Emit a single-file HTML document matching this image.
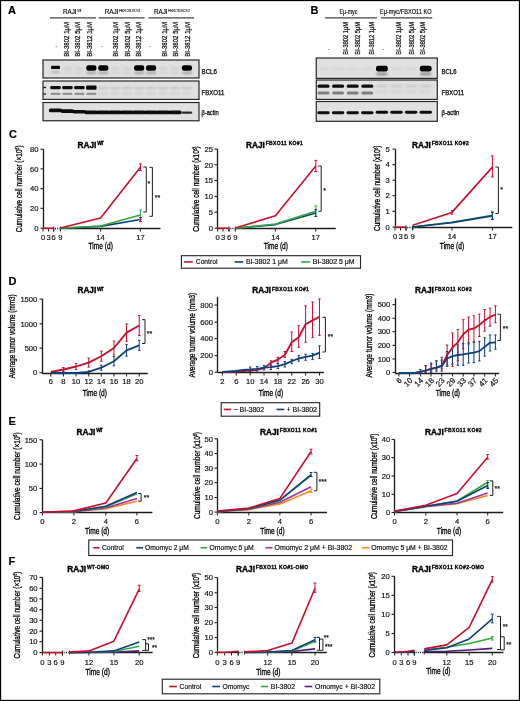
<!DOCTYPE html><html><head><meta charset="utf-8"><style>html,body{margin:0;padding:0;background:#fff;}svg{display:block;font-family:"Liberation Sans", sans-serif;} text{stroke:#000;stroke-width:0.18px;}</style></head><body>
<svg width="520" height="701" viewBox="0 0 520 701">
<defs><filter id="gb" x="0" y="0" width="520" height="701" filterUnits="userSpaceOnUse"><feGaussianBlur stdDeviation="0.45"/></filter><filter id="bl" x="-20%" y="-50%" width="140%" height="200%"><feGaussianBlur stdDeviation="0.7"/></filter><filter id="bl2" x="-20%" y="-80%" width="140%" height="260%"><feGaussianBlur stdDeviation="1.0"/></filter></defs>
<rect x="0" y="0" width="520" height="701" fill="#fff"/>
<g filter="url(#gb)">
<rect x="0.5" y="0.5" width="519" height="700" fill="none" stroke="#000" stroke-width="1.3"/>
<text x="8" y="14.2" font-size="11" font-weight="bold" text-anchor="start" fill="#000">A</text>
<text x="310.6" y="14.4" font-size="11" font-weight="bold" text-anchor="start" fill="#000">B</text>
<text x="9" y="138.2" font-size="11" font-weight="bold" text-anchor="start" fill="#000">C</text>
<text x="8.6" y="285" font-size="11" font-weight="bold" text-anchor="start" fill="#000">D</text>
<text x="8.6" y="424.5" font-size="11" font-weight="bold" text-anchor="start" fill="#000">E</text>
<text x="8.6" y="565.3" font-size="11" font-weight="bold" text-anchor="start" fill="#000">F</text>
<text x="63" y="14.3" font-size="6.8" font-weight="normal" text-anchor="start" fill="#111" textLength="13.6" lengthAdjust="spacingAndGlyphs">RAJI</text>
<text x="77.1" y="11.8" font-size="4.3" fill="#222" style="stroke-width:0.05px" textLength="4.4" lengthAdjust="spacing">WT</text>
<text x="104.7" y="14.3" font-size="6.8" font-weight="normal" text-anchor="start" fill="#111" textLength="13.6" lengthAdjust="spacingAndGlyphs">RAJI</text>
<text x="118.8" y="11.8" font-size="4.3" fill="#222" style="stroke-width:0.05px" textLength="22" lengthAdjust="spacing">FBXO11 KO#1</text>
<text x="154" y="14.3" font-size="6.8" font-weight="normal" text-anchor="start" fill="#111" textLength="13.6" lengthAdjust="spacingAndGlyphs">RAJI</text>
<text x="168.1" y="11.8" font-size="4.3" fill="#222" style="stroke-width:0.05px" textLength="22" lengthAdjust="spacing">FBXO11 KO#2</text>
<line x1="50" y1="17.9" x2="96" y2="17.9" stroke="#444" stroke-width="1.3"/>
<line x1="98.6" y1="17.9" x2="144.5" y2="17.9" stroke="#444" stroke-width="1.3"/>
<line x1="148.5" y1="17.9" x2="194" y2="17.9" stroke="#444" stroke-width="1.3"/>
<text x="56.3" y="47.5" font-size="5" font-weight="normal" text-anchor="middle" fill="#333">-</text>
<text transform="translate(68.74,56.7) rotate(-90)" x="0" y="0" font-size="7.6" font-weight="normal" text-anchor="start" fill="#222" textLength="34.7" lengthAdjust="spacingAndGlyphs" style="stroke-width:0.25px">BI-3802 1μM</text>
<text transform="translate(80.24,56.7) rotate(-90)" x="0" y="0" font-size="7.6" font-weight="normal" text-anchor="start" fill="#222" textLength="34.7" lengthAdjust="spacingAndGlyphs" style="stroke-width:0.25px">BI-3802 5μM</text>
<text transform="translate(92.34,56.7) rotate(-90)" x="0" y="0" font-size="7.6" font-weight="normal" text-anchor="start" fill="#222" textLength="34.7" lengthAdjust="spacingAndGlyphs" style="stroke-width:0.25px">BI-3812 1μM</text>
<text x="102.1" y="47.5" font-size="5" font-weight="normal" text-anchor="middle" fill="#333">-</text>
<text transform="translate(117.54,56.7) rotate(-90)" x="0" y="0" font-size="7.6" font-weight="normal" text-anchor="start" fill="#222" textLength="34.7" lengthAdjust="spacingAndGlyphs" style="stroke-width:0.25px">BI-3802 1μM</text>
<text transform="translate(129.64,56.7) rotate(-90)" x="0" y="0" font-size="7.6" font-weight="normal" text-anchor="start" fill="#222" textLength="34.7" lengthAdjust="spacingAndGlyphs" style="stroke-width:0.25px">BI-3802 5μM</text>
<text transform="translate(141.14,56.7) rotate(-90)" x="0" y="0" font-size="7.6" font-weight="normal" text-anchor="start" fill="#222" textLength="34.7" lengthAdjust="spacingAndGlyphs" style="stroke-width:0.25px">BI-3812 1μM</text>
<text x="150" y="47.5" font-size="5" font-weight="normal" text-anchor="middle" fill="#333">-</text>
<text transform="translate(167.44,56.7) rotate(-90)" x="0" y="0" font-size="7.6" font-weight="normal" text-anchor="start" fill="#222" textLength="34.7" lengthAdjust="spacingAndGlyphs" style="stroke-width:0.25px">BI-3802 1μM</text>
<text transform="translate(178.14,56.7) rotate(-90)" x="0" y="0" font-size="7.6" font-weight="normal" text-anchor="start" fill="#222" textLength="34.7" lengthAdjust="spacingAndGlyphs" style="stroke-width:0.25px">BI-3802 5μM</text>
<text transform="translate(189.64,56.7) rotate(-90)" x="0" y="0" font-size="7.6" font-weight="normal" text-anchor="start" fill="#222" textLength="34.7" lengthAdjust="spacingAndGlyphs" style="stroke-width:0.25px">BI-3812 1μM</text>
<rect x="43" y="60" width="156" height="18" fill="#e0e0e0" stroke="#262626" stroke-width="1.2"/>
<rect x="43" y="81" width="156" height="18.4" fill="#e0e0e0" stroke="#262626" stroke-width="1.2"/>
<rect x="43" y="102.5" width="156" height="18.25" fill="#e0e0e0" stroke="#262626" stroke-width="1.2"/>
<rect x="51" y="65.7" width="9" height="3.4" rx="1.2" fill="#000" opacity="0.95" filter="url(#bl)"/>
<rect x="51.25" y="70.8" width="8.5" height="2.4" rx="1.2" fill="#888" opacity="0.5" filter="url(#bl2)"/>
<rect x="62.95" y="67.3" width="9" height="2.4" rx="1.2" fill="#bbb" opacity="0.45" filter="url(#bl2)"/>
<rect x="62.95" y="71.4" width="9" height="2.2" rx="1.2" fill="#bbb" opacity="0.4" filter="url(#bl2)"/>
<rect x="74.9" y="67.3" width="9" height="2.4" rx="1.2" fill="#bbb" opacity="0.45" filter="url(#bl2)"/>
<rect x="74.9" y="71.4" width="9" height="2.2" rx="1.2" fill="#bbb" opacity="0.4" filter="url(#bl2)"/>
<rect x="86.25" y="65.2" width="10.2" height="5.6" rx="2.2" fill="#000" opacity="1" filter="url(#bl)"/>
<rect x="86.35" y="71.4" width="10" height="2.8" rx="1.2" fill="#777" opacity="0.55" filter="url(#bl2)"/>
<rect x="98.2" y="65.2" width="10.2" height="5.6" rx="2.2" fill="#000" opacity="1" filter="url(#bl)"/>
<rect x="98.3" y="71.4" width="10" height="2.8" rx="1.2" fill="#777" opacity="0.55" filter="url(#bl2)"/>
<rect x="110.75" y="67.3" width="9" height="2.4" rx="1.2" fill="#bbb" opacity="0.45" filter="url(#bl2)"/>
<rect x="110.75" y="71.4" width="9" height="2.2" rx="1.2" fill="#bbb" opacity="0.4" filter="url(#bl2)"/>
<rect x="122.7" y="67.3" width="9" height="2.4" rx="1.2" fill="#bbb" opacity="0.45" filter="url(#bl2)"/>
<rect x="122.7" y="71.4" width="9" height="2.2" rx="1.2" fill="#bbb" opacity="0.4" filter="url(#bl2)"/>
<rect x="134.05" y="65.2" width="10.2" height="5.6" rx="2.2" fill="#000" opacity="1" filter="url(#bl)"/>
<rect x="134.15" y="71.4" width="10" height="2.8" rx="1.2" fill="#777" opacity="0.55" filter="url(#bl2)"/>
<rect x="146" y="65.2" width="10.2" height="5.6" rx="2.2" fill="#000" opacity="1" filter="url(#bl)"/>
<rect x="146.1" y="71.4" width="10" height="2.8" rx="1.2" fill="#777" opacity="0.55" filter="url(#bl2)"/>
<rect x="158.55" y="67.3" width="9" height="2.4" rx="1.2" fill="#bbb" opacity="0.45" filter="url(#bl2)"/>
<rect x="158.55" y="71.4" width="9" height="2.2" rx="1.2" fill="#bbb" opacity="0.4" filter="url(#bl2)"/>
<rect x="170.5" y="67.3" width="9" height="2.4" rx="1.2" fill="#bbb" opacity="0.45" filter="url(#bl2)"/>
<rect x="170.5" y="71.4" width="9" height="2.2" rx="1.2" fill="#bbb" opacity="0.4" filter="url(#bl2)"/>
<rect x="181.85" y="65.2" width="10.2" height="5.6" rx="2.2" fill="#000" opacity="1" filter="url(#bl)"/>
<rect x="181.95" y="71.4" width="10" height="2.8" rx="1.2" fill="#777" opacity="0.55" filter="url(#bl2)"/>
<rect x="50.25" y="85.9" width="10.5" height="3.4" rx="1.2" fill="#000" opacity="0.95" filter="url(#bl)"/>
<rect x="50.5" y="92.7" width="10" height="2.4" rx="1.2" fill="#555" opacity="0.55" filter="url(#bl)"/>
<rect x="62.2" y="85.9" width="10.5" height="3.4" rx="1.2" fill="#000" opacity="0.95" filter="url(#bl)"/>
<rect x="62.45" y="92.7" width="10" height="2.4" rx="1.2" fill="#555" opacity="0.55" filter="url(#bl)"/>
<rect x="74.15" y="85.9" width="10.5" height="3.4" rx="1.2" fill="#000" opacity="0.95" filter="url(#bl)"/>
<rect x="74.4" y="92.7" width="10" height="2.4" rx="1.2" fill="#555" opacity="0.55" filter="url(#bl)"/>
<rect x="86.1" y="85.5" width="10.5" height="4.2" rx="1.2" fill="#000" opacity="0.95" filter="url(#bl)"/>
<rect x="86.35" y="92.7" width="10" height="2.4" rx="1.2" fill="#555" opacity="0.55" filter="url(#bl)"/>
<rect x="98.3" y="87.2" width="10" height="2" rx="1.2" fill="#9a9a9a" opacity="0.45" filter="url(#bl2)"/>
<rect x="98.3" y="92.6" width="10" height="1.8" rx="1.2" fill="#aaa" opacity="0.3" filter="url(#bl2)"/>
<rect x="110.25" y="87.2" width="10" height="2" rx="1.2" fill="#9a9a9a" opacity="0.45" filter="url(#bl2)"/>
<rect x="110.25" y="92.6" width="10" height="1.8" rx="1.2" fill="#aaa" opacity="0.3" filter="url(#bl2)"/>
<rect x="122.2" y="87.2" width="10" height="2" rx="1.2" fill="#9a9a9a" opacity="0.45" filter="url(#bl2)"/>
<rect x="122.2" y="92.6" width="10" height="1.8" rx="1.2" fill="#aaa" opacity="0.3" filter="url(#bl2)"/>
<rect x="134.15" y="87.2" width="10" height="2" rx="1.2" fill="#9a9a9a" opacity="0.45" filter="url(#bl2)"/>
<rect x="134.15" y="92.6" width="10" height="1.8" rx="1.2" fill="#aaa" opacity="0.3" filter="url(#bl2)"/>
<rect x="146.1" y="87.2" width="10" height="2" rx="1.2" fill="#9a9a9a" opacity="0.45" filter="url(#bl2)"/>
<rect x="146.1" y="92.6" width="10" height="1.8" rx="1.2" fill="#aaa" opacity="0.3" filter="url(#bl2)"/>
<rect x="158.05" y="87.2" width="10" height="2" rx="1.2" fill="#9a9a9a" opacity="0.45" filter="url(#bl2)"/>
<rect x="158.05" y="92.6" width="10" height="1.8" rx="1.2" fill="#aaa" opacity="0.3" filter="url(#bl2)"/>
<rect x="170" y="87.2" width="10" height="2" rx="1.2" fill="#9a9a9a" opacity="0.45" filter="url(#bl2)"/>
<rect x="170" y="92.6" width="10" height="1.8" rx="1.2" fill="#aaa" opacity="0.3" filter="url(#bl2)"/>
<rect x="181.95" y="87.2" width="10" height="2" rx="1.2" fill="#9a9a9a" opacity="0.45" filter="url(#bl2)"/>
<rect x="181.95" y="92.6" width="10" height="1.8" rx="1.2" fill="#aaa" opacity="0.3" filter="url(#bl2)"/>
<line x1="43.5" y1="87.5" x2="46" y2="87.5" stroke="#000" stroke-width="1.2"/>
<line x1="43.5" y1="94" x2="46" y2="94" stroke="#000" stroke-width="1.2"/>
<rect x="48.9" y="108.6" width="13.2" height="3.6" rx="1.5" fill="#000" opacity="0.95" filter="url(#bl)"/>
<rect x="60.85" y="109.3" width="13.2" height="3.6" rx="1.5" fill="#000" opacity="0.95" filter="url(#bl)"/>
<rect x="72.8" y="110" width="13.2" height="3.6" rx="1.5" fill="#000" opacity="0.95" filter="url(#bl)"/>
<rect x="84.75" y="110.6" width="13.2" height="3.6" rx="1.5" fill="#000" opacity="0.95" filter="url(#bl)"/>
<rect x="96.7" y="110.6" width="13.2" height="3.6" rx="1.5" fill="#000" opacity="0.95" filter="url(#bl)"/>
<rect x="108.65" y="110.6" width="13.2" height="3.6" rx="1.5" fill="#000" opacity="0.95" filter="url(#bl)"/>
<rect x="120.6" y="110.6" width="13.2" height="3.6" rx="1.5" fill="#000" opacity="0.95" filter="url(#bl)"/>
<rect x="132.55" y="110.6" width="13.2" height="3.6" rx="1.5" fill="#000" opacity="0.95" filter="url(#bl)"/>
<rect x="144.5" y="110.6" width="13.2" height="3.6" rx="1.5" fill="#000" opacity="0.95" filter="url(#bl)"/>
<rect x="156.45" y="110.6" width="13.2" height="3.6" rx="1.5" fill="#000" opacity="0.95" filter="url(#bl)"/>
<rect x="168.4" y="110.6" width="13.2" height="3.6" rx="1.5" fill="#000" opacity="0.95" filter="url(#bl)"/>
<rect x="181.7" y="111.4" width="10.5" height="2.4" rx="1.2" fill="#000" opacity="0.8" filter="url(#bl)"/>
<text x="339.4" y="13.8" font-size="6.6" font-weight="normal" text-anchor="start" fill="#222" textLength="18" lengthAdjust="spacingAndGlyphs">Eμ-myc</text>
<text x="380" y="13.8" font-size="6.6" font-weight="normal" text-anchor="start" fill="#222" textLength="51.5" lengthAdjust="spacingAndGlyphs">Eμ-myc/FBXO11 KO</text>
<line x1="325" y1="17.9" x2="377" y2="17.9" stroke="#444" stroke-width="1.3"/>
<line x1="381" y1="17.9" x2="432.3" y2="17.9" stroke="#444" stroke-width="1.3"/>
<text x="328.5" y="51.2" font-size="5" font-weight="normal" text-anchor="middle" fill="#333">-</text>
<text x="383" y="51.2" font-size="5" font-weight="normal" text-anchor="middle" fill="#333">-</text>
<text transform="translate(347.74,54.8) rotate(-90)" x="0" y="0" font-size="7.6" font-weight="normal" text-anchor="start" fill="#222" textLength="32.8" lengthAdjust="spacingAndGlyphs" style="stroke-width:0.25px">BI-3802 1μM</text>
<text transform="translate(360.44,54.8) rotate(-90)" x="0" y="0" font-size="7.6" font-weight="normal" text-anchor="start" fill="#222" textLength="32.8" lengthAdjust="spacingAndGlyphs" style="stroke-width:0.25px">BI-3802 5μM</text>
<text transform="translate(373.74,54.8) rotate(-90)" x="0" y="0" font-size="7.6" font-weight="normal" text-anchor="start" fill="#222" textLength="32.8" lengthAdjust="spacingAndGlyphs" style="stroke-width:0.25px">BI-3812 1μM</text>
<text transform="translate(401.04,54.8) rotate(-90)" x="0" y="0" font-size="7.6" font-weight="normal" text-anchor="start" fill="#222" textLength="32.8" lengthAdjust="spacingAndGlyphs" style="stroke-width:0.25px">BI-3802 1μM</text>
<text transform="translate(413.54,54.8) rotate(-90)" x="0" y="0" font-size="7.6" font-weight="normal" text-anchor="start" fill="#222" textLength="32.8" lengthAdjust="spacingAndGlyphs" style="stroke-width:0.25px">BI-3802 5μM</text>
<text transform="translate(425.44,54.8) rotate(-90)" x="0" y="0" font-size="7.6" font-weight="normal" text-anchor="start" fill="#222" textLength="32.8" lengthAdjust="spacingAndGlyphs" style="stroke-width:0.25px">BI-3802 5μM</text>
<rect x="316.25" y="58" width="121.05" height="20.4" fill="#e0e0e0" stroke="#262626" stroke-width="1.2"/>
<rect x="316.25" y="80" width="121.05" height="19.4" fill="#e0e0e0" stroke="#262626" stroke-width="1.2"/>
<rect x="316.25" y="101.5" width="121.05" height="19.8" fill="#e0e0e0" stroke="#262626" stroke-width="1.2"/>
<rect x="318" y="67.9" width="11" height="2.2" rx="1.2" fill="#c4c4c4" opacity="0.4" filter="url(#bl2)"/>
<rect x="332.6" y="67.9" width="11" height="2.2" rx="1.2" fill="#c4c4c4" opacity="0.4" filter="url(#bl2)"/>
<rect x="347.2" y="67.9" width="11" height="2.2" rx="1.2" fill="#c4c4c4" opacity="0.4" filter="url(#bl2)"/>
<rect x="361.8" y="67.9" width="11" height="2.2" rx="1.2" fill="#c4c4c4" opacity="0.4" filter="url(#bl2)"/>
<rect x="376" y="65.8" width="11.8" height="5.6" rx="2.2" fill="#000" opacity="1" filter="url(#bl)"/>
<rect x="376.4" y="72.2" width="11" height="3.2" rx="1.2" fill="#6a6370" opacity="0.6" filter="url(#bl2)"/>
<rect x="391" y="67.9" width="11" height="2.2" rx="1.2" fill="#c4c4c4" opacity="0.4" filter="url(#bl2)"/>
<rect x="405.6" y="67.9" width="11" height="2.2" rx="1.2" fill="#c4c4c4" opacity="0.4" filter="url(#bl2)"/>
<rect x="419.8" y="65.8" width="11.8" height="5.6" rx="2.2" fill="#000" opacity="1" filter="url(#bl)"/>
<rect x="420.2" y="72.2" width="11" height="3.2" rx="1.2" fill="#6a6370" opacity="0.6" filter="url(#bl2)"/>
<rect x="317.5" y="84.4" width="12" height="3.4" rx="1.6" fill="#000" opacity="0.95" filter="url(#bl)"/>
<rect x="317.75" y="91.4" width="11.5" height="3" rx="1.2" fill="#4a4a4a" opacity="0.65" filter="url(#bl)"/>
<rect x="332.1" y="84.4" width="12" height="3.4" rx="1.6" fill="#000" opacity="0.95" filter="url(#bl)"/>
<rect x="332.35" y="91.4" width="11.5" height="3" rx="1.2" fill="#4a4a4a" opacity="0.65" filter="url(#bl)"/>
<rect x="346.7" y="84.4" width="12" height="3.4" rx="1.6" fill="#000" opacity="0.95" filter="url(#bl)"/>
<rect x="346.95" y="91.4" width="11.5" height="3" rx="1.2" fill="#4a4a4a" opacity="0.65" filter="url(#bl)"/>
<rect x="361.3" y="84.4" width="12" height="3.4" rx="1.6" fill="#000" opacity="0.95" filter="url(#bl)"/>
<rect x="361.55" y="91.4" width="11.5" height="3" rx="1.2" fill="#4a4a4a" opacity="0.65" filter="url(#bl)"/>
<rect x="376.15" y="85.2" width="11.5" height="2" rx="1.2" fill="#a0a0a0" opacity="0.45" filter="url(#bl2)"/>
<rect x="376.15" y="90.5" width="11.5" height="1.8" rx="1.2" fill="#aaa" opacity="0.35" filter="url(#bl2)"/>
<rect x="390.75" y="85.2" width="11.5" height="2" rx="1.2" fill="#a0a0a0" opacity="0.45" filter="url(#bl2)"/>
<rect x="390.75" y="90.5" width="11.5" height="1.8" rx="1.2" fill="#aaa" opacity="0.35" filter="url(#bl2)"/>
<rect x="405.35" y="85.2" width="11.5" height="2" rx="1.2" fill="#a0a0a0" opacity="0.45" filter="url(#bl2)"/>
<rect x="405.35" y="90.5" width="11.5" height="1.8" rx="1.2" fill="#aaa" opacity="0.35" filter="url(#bl2)"/>
<rect x="419.95" y="85.2" width="11.5" height="2" rx="1.2" fill="#a0a0a0" opacity="0.45" filter="url(#bl2)"/>
<rect x="419.95" y="90.5" width="11.5" height="1.8" rx="1.2" fill="#aaa" opacity="0.35" filter="url(#bl2)"/>
<rect x="317.3" y="111.35" width="12.4" height="2.9" rx="1.4" fill="#000" opacity="0.95" filter="url(#bl)"/>
<rect x="331.9" y="111.35" width="12.4" height="2.9" rx="1.4" fill="#000" opacity="0.95" filter="url(#bl)"/>
<rect x="346.5" y="111.35" width="12.4" height="2.9" rx="1.4" fill="#000" opacity="0.95" filter="url(#bl)"/>
<rect x="361.1" y="111.35" width="12.4" height="2.9" rx="1.4" fill="#000" opacity="0.95" filter="url(#bl)"/>
<rect x="375.7" y="110.75" width="12.4" height="2.9" rx="1.4" fill="#000" opacity="0.95" filter="url(#bl)"/>
<rect x="390.3" y="110.75" width="12.4" height="2.9" rx="1.4" fill="#000" opacity="0.95" filter="url(#bl)"/>
<rect x="404.9" y="110.75" width="12.4" height="2.9" rx="1.4" fill="#000" opacity="0.95" filter="url(#bl)"/>
<rect x="419.5" y="110.75" width="12.4" height="2.9" rx="1.4" fill="#000" opacity="0.95" filter="url(#bl)"/>
<text x="201.5" y="73.8" font-size="6.9" font-weight="normal" text-anchor="start" fill="#111" textLength="15.5" lengthAdjust="spacingAndGlyphs" style="stroke-width:0.25px">BCL6</text>
<text x="201.5" y="95" font-size="6.9" font-weight="normal" text-anchor="start" fill="#111" textLength="22.9" lengthAdjust="spacingAndGlyphs" style="stroke-width:0.25px">FBXO11</text>
<text x="201.5" y="115.3" font-size="6.9" font-weight="normal" text-anchor="start" fill="#111" textLength="17.2" lengthAdjust="spacingAndGlyphs" style="stroke-width:0.25px">β-actin</text>
<text x="441.5" y="73.8" font-size="6.9" font-weight="normal" text-anchor="start" fill="#111" textLength="15" lengthAdjust="spacingAndGlyphs" style="stroke-width:0.25px">BCL6</text>
<text x="441.5" y="95" font-size="6.9" font-weight="normal" text-anchor="start" fill="#111" textLength="22.5" lengthAdjust="spacingAndGlyphs" style="stroke-width:0.25px">FBXO11</text>
<text x="441.5" y="115.2" font-size="6.9" font-weight="normal" text-anchor="start" fill="#111" textLength="17.9" lengthAdjust="spacingAndGlyphs" style="stroke-width:0.25px">β-actin</text>
<text x="77.5" y="148.3" font-size="9.2" font-weight="bold" text-anchor="start" fill="#000" textLength="18.9" lengthAdjust="spacingAndGlyphs" style="stroke-width:0.4px">RAJI</text>
<text x="97.2" y="145.4" font-size="5" font-weight="bold" fill="#000" style="stroke-width:0.3px" textLength="6.6" lengthAdjust="spacing">WT</text>
<line x1="43.5" y1="149.2" x2="43.5" y2="228.8" stroke="#1e1e1e" stroke-width="1.3"/>
<line x1="40.5" y1="149.2" x2="43.5" y2="149.2" stroke="#1e1e1e" stroke-width="1.1"/>
<text x="38.5" y="151.9" font-size="7.6" font-weight="normal" text-anchor="end" fill="#1a1a1a">80</text>
<line x1="40.5" y1="168.9" x2="43.5" y2="168.9" stroke="#1e1e1e" stroke-width="1.1"/>
<text x="38.5" y="171.6" font-size="7.6" font-weight="normal" text-anchor="end" fill="#1a1a1a">60</text>
<line x1="40.5" y1="188.6" x2="43.5" y2="188.6" stroke="#1e1e1e" stroke-width="1.1"/>
<text x="38.5" y="191.3" font-size="7.6" font-weight="normal" text-anchor="end" fill="#1a1a1a">40</text>
<line x1="40.5" y1="208.3" x2="43.5" y2="208.3" stroke="#1e1e1e" stroke-width="1.1"/>
<text x="38.5" y="211" font-size="7.6" font-weight="normal" text-anchor="end" fill="#1a1a1a">20</text>
<line x1="40.5" y1="228.2" x2="43.5" y2="228.2" stroke="#1e1e1e" stroke-width="1.1"/>
<text x="38.5" y="230.9" font-size="7.6" font-weight="normal" text-anchor="end" fill="#1a1a1a">0</text>
<line x1="43" y1="228.5" x2="53.7" y2="228.5" stroke="#1e1e1e" stroke-width="1.3"/>
<line x1="60.4" y1="228.5" x2="160.5" y2="228.5" stroke="#1e1e1e" stroke-width="1.3"/>
<line x1="54.9" y1="228.5" x2="59.6" y2="228.5" stroke="#1e1e1e" stroke-width="1.3" stroke-dasharray="1.1,1.1"/>
<line x1="53.7" y1="226.5" x2="53.7" y2="231.5" stroke="#1e1e1e" stroke-width="1"/>
<line x1="60.4" y1="226.5" x2="60.4" y2="230.5" stroke="#1e1e1e" stroke-width="1"/>
<line x1="43" y1="228.5" x2="43" y2="231.5" stroke="#1e1e1e" stroke-width="1"/>
<text x="43" y="239.6" font-size="7.6" font-weight="normal" text-anchor="middle" fill="#1a1a1a">0</text>
<line x1="48.5" y1="228.5" x2="48.5" y2="231.5" stroke="#1e1e1e" stroke-width="1"/>
<text x="48.5" y="239.6" font-size="7.6" font-weight="normal" text-anchor="middle" fill="#1a1a1a">3</text>
<line x1="53.7" y1="228.5" x2="53.7" y2="231.5" stroke="#1e1e1e" stroke-width="1"/>
<text x="53.7" y="239.6" font-size="7.6" font-weight="normal" text-anchor="middle" fill="#1a1a1a">6</text>
<line x1="60.4" y1="228.5" x2="60.4" y2="231.5" stroke="#1e1e1e" stroke-width="1"/>
<text x="60.4" y="239.6" font-size="7.6" font-weight="normal" text-anchor="middle" fill="#1a1a1a">9</text>
<line x1="100.6" y1="228.5" x2="100.6" y2="231.5" stroke="#1e1e1e" stroke-width="1"/>
<text x="100.6" y="239.6" font-size="7.6" font-weight="normal" text-anchor="middle" fill="#1a1a1a">14</text>
<line x1="140.4" y1="228.5" x2="140.4" y2="231.5" stroke="#1e1e1e" stroke-width="1"/>
<text x="140.4" y="239.6" font-size="7.6" font-weight="normal" text-anchor="middle" fill="#1a1a1a">17</text>
<text transform="translate(21.67,188.85) rotate(-90)" x="0" y="0" font-size="8.8" font-weight="normal" text-anchor="middle" fill="#111" textLength="86.9" lengthAdjust="spacingAndGlyphs" style="stroke-width:0.3px">Cumulative cell number (×10<tspan font-size="4.6" dy="-2.6">6</tspan><tspan dy="2.6">)</tspan></text>
<text x="100.7" y="249.3" font-size="9.8" font-weight="normal" text-anchor="middle" fill="#111" textLength="24.3" lengthAdjust="spacingAndGlyphs" style="stroke-width:0.35px">Time (d)</text>
<polyline points="43,228.2 48.5,228.2 53.7,228.2" fill="none" stroke="#c8102e" stroke-width="1.6" stroke-linejoin="round"/>
<polyline points="60.4,228.2 100.6,226.4 140.4,219.5" fill="none" stroke="#0f3f7c" stroke-width="1.6" stroke-linejoin="round"/>
<polyline points="60.4,228.2 100.6,226 140.4,214.9" fill="none" stroke="#2faa3c" stroke-width="1.6" stroke-linejoin="round"/>
<polyline points="60.4,228 100.6,218 140.4,167.3" fill="none" stroke="#c8102e" stroke-width="1.6" stroke-linejoin="round"/>
<line x1="140.4" y1="163.9" x2="140.4" y2="170.5" stroke="#c8102e" stroke-width="1"/>
<line x1="139" y1="163.9" x2="141.8" y2="163.9" stroke="#c8102e" stroke-width="1"/>
<line x1="139" y1="170.5" x2="141.8" y2="170.5" stroke="#c8102e" stroke-width="1"/>
<line x1="140.4" y1="210" x2="140.4" y2="219.5" stroke="#2faa3c" stroke-width="1"/>
<line x1="139" y1="210" x2="141.8" y2="210" stroke="#2faa3c" stroke-width="1"/>
<line x1="139" y1="219.5" x2="141.8" y2="219.5" stroke="#2faa3c" stroke-width="1"/>
<line x1="140.4" y1="217.5" x2="140.4" y2="221.5" stroke="#c8102e" stroke-width="1"/>
<line x1="139" y1="217.5" x2="141.8" y2="217.5" stroke="#c8102e" stroke-width="1"/>
<line x1="139" y1="221.5" x2="141.8" y2="221.5" stroke="#c8102e" stroke-width="1"/>
<polyline points="143.3,167 146.3,167 146.3,212 143.3,212" fill="none" stroke="#1e1e1e" stroke-width="1"/>
<text x="147.6" y="186.3" font-size="7" font-weight="normal" text-anchor="start" fill="#1a1a1a">*</text>
<polyline points="149.4,167.3 152.4,167.3 152.4,216.3 149.4,216.3" fill="none" stroke="#1e1e1e" stroke-width="1"/>
<text x="154.8" y="200.3" font-size="7" font-weight="normal" text-anchor="start" fill="#1a1a1a">**</text>
<text x="246" y="148.3" font-size="9.2" font-weight="bold" text-anchor="start" fill="#000" textLength="18.9" lengthAdjust="spacingAndGlyphs" style="stroke-width:0.4px">RAJI</text>
<text x="265.7" y="145.4" font-size="5" font-weight="bold" fill="#000" style="stroke-width:0.3px" textLength="37" lengthAdjust="spacing">FBXO11 KO#1</text>
<line x1="217.5" y1="149.1" x2="217.5" y2="228.8" stroke="#1e1e1e" stroke-width="1.3"/>
<line x1="214.5" y1="149.1" x2="217.5" y2="149.1" stroke="#1e1e1e" stroke-width="1.1"/>
<text x="213" y="151.8" font-size="7.6" font-weight="normal" text-anchor="end" fill="#1a1a1a">25</text>
<line x1="214.5" y1="164.8" x2="217.5" y2="164.8" stroke="#1e1e1e" stroke-width="1.1"/>
<text x="213" y="167.5" font-size="7.6" font-weight="normal" text-anchor="end" fill="#1a1a1a">20</text>
<line x1="214.5" y1="180.5" x2="217.5" y2="180.5" stroke="#1e1e1e" stroke-width="1.1"/>
<text x="213" y="183.2" font-size="7.6" font-weight="normal" text-anchor="end" fill="#1a1a1a">15</text>
<line x1="214.5" y1="196.5" x2="217.5" y2="196.5" stroke="#1e1e1e" stroke-width="1.1"/>
<text x="213" y="199.2" font-size="7.6" font-weight="normal" text-anchor="end" fill="#1a1a1a">10</text>
<line x1="214.5" y1="212.2" x2="217.5" y2="212.2" stroke="#1e1e1e" stroke-width="1.1"/>
<text x="213" y="214.9" font-size="7.6" font-weight="normal" text-anchor="end" fill="#1a1a1a">5</text>
<line x1="214.5" y1="228.2" x2="217.5" y2="228.2" stroke="#1e1e1e" stroke-width="1.1"/>
<text x="213" y="230.9" font-size="7.6" font-weight="normal" text-anchor="end" fill="#1a1a1a">0</text>
<line x1="217.3" y1="228.5" x2="229" y2="228.5" stroke="#1e1e1e" stroke-width="1.3"/>
<line x1="235.3" y1="228.5" x2="335.75" y2="228.5" stroke="#1e1e1e" stroke-width="1.3"/>
<line x1="230.2" y1="228.5" x2="234.5" y2="228.5" stroke="#1e1e1e" stroke-width="1.3" stroke-dasharray="1.1,1.1"/>
<line x1="229" y1="226.5" x2="229" y2="231.5" stroke="#1e1e1e" stroke-width="1"/>
<line x1="235.3" y1="226.5" x2="235.3" y2="230.5" stroke="#1e1e1e" stroke-width="1"/>
<line x1="217.6" y1="228.5" x2="217.6" y2="231.5" stroke="#1e1e1e" stroke-width="1"/>
<text x="217.6" y="239.6" font-size="7.6" font-weight="normal" text-anchor="middle" fill="#1a1a1a">0</text>
<line x1="223" y1="228.5" x2="223" y2="231.5" stroke="#1e1e1e" stroke-width="1"/>
<text x="223" y="239.6" font-size="7.6" font-weight="normal" text-anchor="middle" fill="#1a1a1a">3</text>
<line x1="229" y1="228.5" x2="229" y2="231.5" stroke="#1e1e1e" stroke-width="1"/>
<text x="229" y="239.6" font-size="7.6" font-weight="normal" text-anchor="middle" fill="#1a1a1a">6</text>
<line x1="235.3" y1="228.5" x2="235.3" y2="231.5" stroke="#1e1e1e" stroke-width="1"/>
<text x="235.3" y="239.6" font-size="7.6" font-weight="normal" text-anchor="middle" fill="#1a1a1a">9</text>
<line x1="275.4" y1="228.5" x2="275.4" y2="231.5" stroke="#1e1e1e" stroke-width="1"/>
<text x="275.4" y="239.6" font-size="7.6" font-weight="normal" text-anchor="middle" fill="#1a1a1a">14</text>
<line x1="315.8" y1="228.5" x2="315.8" y2="231.5" stroke="#1e1e1e" stroke-width="1"/>
<text x="315.8" y="239.6" font-size="7.6" font-weight="normal" text-anchor="middle" fill="#1a1a1a">17</text>
<text transform="translate(199.37,189) rotate(-90)" x="0" y="0" font-size="8.8" font-weight="normal" text-anchor="middle" fill="#111" textLength="85.5" lengthAdjust="spacingAndGlyphs" style="stroke-width:0.3px">Cumulative cell number (x10<tspan font-size="4.6" dy="-2.6">6</tspan><tspan dy="2.6">)</tspan></text>
<text x="275.8" y="248.5" font-size="9.8" font-weight="normal" text-anchor="middle" fill="#111" textLength="24.3" lengthAdjust="spacingAndGlyphs" style="stroke-width:0.35px">Time (d)</text>
<polyline points="217.6,228.2 223,228.2 229,228.2" fill="none" stroke="#c8102e" stroke-width="1.6" stroke-linejoin="round"/>
<polyline points="235.3,228.2 275.4,224.6 315.8,212.9" fill="none" stroke="#0f3f7c" stroke-width="1.6" stroke-linejoin="round"/>
<polyline points="235.3,228.2 275.4,224 315.8,211.3" fill="none" stroke="#2faa3c" stroke-width="1.6" stroke-linejoin="round"/>
<polyline points="235.3,228 275.4,215.8 315.8,166" fill="none" stroke="#c8102e" stroke-width="1.6" stroke-linejoin="round"/>
<line x1="315.8" y1="160.4" x2="315.8" y2="171.5" stroke="#c8102e" stroke-width="1"/>
<line x1="314.4" y1="160.4" x2="317.2" y2="160.4" stroke="#c8102e" stroke-width="1"/>
<line x1="314.4" y1="171.5" x2="317.2" y2="171.5" stroke="#c8102e" stroke-width="1"/>
<line x1="315.8" y1="205.8" x2="315.8" y2="216.4" stroke="#2faa3c" stroke-width="1"/>
<line x1="314.4" y1="205.8" x2="317.2" y2="205.8" stroke="#2faa3c" stroke-width="1"/>
<line x1="314.4" y1="216.4" x2="317.2" y2="216.4" stroke="#2faa3c" stroke-width="1"/>
<line x1="315.8" y1="209.5" x2="315.8" y2="216.5" stroke="#0f3f7c" stroke-width="1"/>
<line x1="314.4" y1="209.5" x2="317.2" y2="209.5" stroke="#0f3f7c" stroke-width="1"/>
<line x1="314.4" y1="216.5" x2="317.2" y2="216.5" stroke="#0f3f7c" stroke-width="1"/>
<polyline points="318.2,166 321.2,166 321.2,211.3 318.2,211.3" fill="none" stroke="#1e1e1e" stroke-width="1"/>
<text x="323.2" y="193" font-size="7" font-weight="normal" text-anchor="start" fill="#1a1a1a">*</text>
<text x="412" y="148.3" font-size="9.2" font-weight="bold" text-anchor="start" fill="#000" textLength="18.9" lengthAdjust="spacingAndGlyphs" style="stroke-width:0.4px">RAJI</text>
<text x="431.7" y="145.4" font-size="5" font-weight="bold" fill="#000" style="stroke-width:0.3px" textLength="37" lengthAdjust="spacing">FBXO11 KO#2</text>
<line x1="395.5" y1="149.1" x2="395.5" y2="227.7" stroke="#1e1e1e" stroke-width="1.3"/>
<line x1="392.5" y1="149.1" x2="395.5" y2="149.1" stroke="#1e1e1e" stroke-width="1.1"/>
<text x="389.8" y="151.8" font-size="7.6" font-weight="normal" text-anchor="end" fill="#1a1a1a">5</text>
<line x1="392.5" y1="164.6" x2="395.5" y2="164.6" stroke="#1e1e1e" stroke-width="1.1"/>
<text x="389.8" y="167.3" font-size="7.6" font-weight="normal" text-anchor="end" fill="#1a1a1a">4</text>
<line x1="392.5" y1="180.2" x2="395.5" y2="180.2" stroke="#1e1e1e" stroke-width="1.1"/>
<text x="389.8" y="182.9" font-size="7.6" font-weight="normal" text-anchor="end" fill="#1a1a1a">3</text>
<line x1="392.5" y1="195.7" x2="395.5" y2="195.7" stroke="#1e1e1e" stroke-width="1.1"/>
<text x="389.8" y="198.4" font-size="7.6" font-weight="normal" text-anchor="end" fill="#1a1a1a">2</text>
<line x1="392.5" y1="211.4" x2="395.5" y2="211.4" stroke="#1e1e1e" stroke-width="1.1"/>
<text x="389.8" y="214.1" font-size="7.6" font-weight="normal" text-anchor="end" fill="#1a1a1a">1</text>
<line x1="392.5" y1="227.1" x2="395.5" y2="227.1" stroke="#1e1e1e" stroke-width="1.1"/>
<text x="389.8" y="229.8" font-size="7.6" font-weight="normal" text-anchor="end" fill="#1a1a1a">0</text>
<line x1="395" y1="227.5" x2="406" y2="227.5" stroke="#1e1e1e" stroke-width="1.3"/>
<line x1="412.7" y1="227.5" x2="512.3" y2="227.5" stroke="#1e1e1e" stroke-width="1.3"/>
<line x1="407.2" y1="227.5" x2="411.9" y2="227.5" stroke="#1e1e1e" stroke-width="1.3" stroke-dasharray="1.1,1.1"/>
<line x1="406" y1="225.5" x2="406" y2="230.5" stroke="#1e1e1e" stroke-width="1"/>
<line x1="412.7" y1="225.5" x2="412.7" y2="229.5" stroke="#1e1e1e" stroke-width="1"/>
<line x1="395" y1="227.5" x2="395" y2="230.5" stroke="#1e1e1e" stroke-width="1"/>
<text x="395" y="238.6" font-size="7.6" font-weight="normal" text-anchor="middle" fill="#1a1a1a">0</text>
<line x1="400.5" y1="227.5" x2="400.5" y2="230.5" stroke="#1e1e1e" stroke-width="1"/>
<text x="400.5" y="238.6" font-size="7.6" font-weight="normal" text-anchor="middle" fill="#1a1a1a">3</text>
<line x1="406" y1="227.5" x2="406" y2="230.5" stroke="#1e1e1e" stroke-width="1"/>
<text x="406" y="238.6" font-size="7.6" font-weight="normal" text-anchor="middle" fill="#1a1a1a">6</text>
<line x1="412.7" y1="227.5" x2="412.7" y2="230.5" stroke="#1e1e1e" stroke-width="1"/>
<text x="412.7" y="238.6" font-size="7.6" font-weight="normal" text-anchor="middle" fill="#1a1a1a">9</text>
<line x1="451.9" y1="227.5" x2="451.9" y2="230.5" stroke="#1e1e1e" stroke-width="1"/>
<text x="451.9" y="238.6" font-size="7.6" font-weight="normal" text-anchor="middle" fill="#1a1a1a">14</text>
<line x1="492.4" y1="227.5" x2="492.4" y2="230.5" stroke="#1e1e1e" stroke-width="1"/>
<text x="492.4" y="238.6" font-size="7.6" font-weight="normal" text-anchor="middle" fill="#1a1a1a">17</text>
<text transform="translate(380.17,188.25) rotate(-90)" x="0" y="0" font-size="8.8" font-weight="normal" text-anchor="middle" fill="#111" textLength="85.5" lengthAdjust="spacingAndGlyphs" style="stroke-width:0.3px">Cumulative cell number (x10<tspan font-size="4.6" dy="-2.6">6</tspan><tspan dy="2.6">)</tspan></text>
<text x="452" y="248.5" font-size="9.8" font-weight="normal" text-anchor="middle" fill="#111" textLength="24.3" lengthAdjust="spacingAndGlyphs" style="stroke-width:0.35px">Time (d)</text>
<polyline points="395,227.1 400.5,227.1 406,227.1" fill="none" stroke="#c8102e" stroke-width="1.6" stroke-linejoin="round"/>
<polyline points="412.7,227 451.9,222.2 492.4,215.3" fill="none" stroke="#2faa3c" stroke-width="1.6" stroke-linejoin="round"/>
<polyline points="412.7,227 451.9,222.6 492.4,215.9" fill="none" stroke="#0f3f7c" stroke-width="1.6" stroke-linejoin="round"/>
<polyline points="412.7,225.3 451.9,212.4 492.4,167.1" fill="none" stroke="#c8102e" stroke-width="1.6" stroke-linejoin="round"/>
<line x1="492.4" y1="156" x2="492.4" y2="177" stroke="#c8102e" stroke-width="1"/>
<line x1="491" y1="156" x2="493.8" y2="156" stroke="#c8102e" stroke-width="1"/>
<line x1="491" y1="177" x2="493.8" y2="177" stroke="#c8102e" stroke-width="1"/>
<line x1="492.4" y1="211.3" x2="492.4" y2="219" stroke="#2faa3c" stroke-width="1"/>
<line x1="491" y1="211.3" x2="493.8" y2="211.3" stroke="#2faa3c" stroke-width="1"/>
<line x1="491" y1="219" x2="493.8" y2="219" stroke="#2faa3c" stroke-width="1"/>
<line x1="492.4" y1="212.5" x2="492.4" y2="219.5" stroke="#0f3f7c" stroke-width="1"/>
<line x1="491" y1="212.5" x2="493.8" y2="212.5" stroke="#0f3f7c" stroke-width="1"/>
<line x1="491" y1="219.5" x2="493.8" y2="219.5" stroke="#0f3f7c" stroke-width="1"/>
<line x1="451.9" y1="210.5" x2="451.9" y2="214.5" stroke="#c8102e" stroke-width="0.9"/>
<line x1="450.9" y1="210.5" x2="452.9" y2="210.5" stroke="#c8102e" stroke-width="0.9"/>
<line x1="450.9" y1="214.5" x2="452.9" y2="214.5" stroke="#c8102e" stroke-width="0.9"/>
<polyline points="495.4,167 498.4,167 498.4,213.5 495.4,213.5" fill="none" stroke="#1e1e1e" stroke-width="1"/>
<text x="500.2" y="192.3" font-size="7" font-weight="normal" text-anchor="start" fill="#1a1a1a">*</text>
<rect x="181.4" y="255.7" width="179.1" height="12.5" fill="#fff" stroke="#222" stroke-width="1.1"/>
<line x1="184" y1="261.95" x2="192.8" y2="261.95" stroke="#c8102e" stroke-width="1.6"/>
<text x="195.8" y="264.45" font-size="7" font-weight="normal" text-anchor="start" fill="#1a1a1a" textLength="21.6" lengthAdjust="spacingAndGlyphs">Control</text>
<line x1="234.7" y1="261.95" x2="243.3" y2="261.95" stroke="#0f3f7c" stroke-width="1.6"/>
<text x="246" y="264.45" font-size="7" font-weight="normal" text-anchor="start" fill="#1a1a1a" textLength="41.7" lengthAdjust="spacingAndGlyphs">BI-3802 1 μM</text>
<line x1="301.2" y1="261.95" x2="310.2" y2="261.95" stroke="#2faa3c" stroke-width="1.6"/>
<text x="312.8" y="264.45" font-size="7" font-weight="normal" text-anchor="start" fill="#1a1a1a" textLength="41.7" lengthAdjust="spacingAndGlyphs">BI-3802 5 μM</text>
<text x="77.4" y="293.4" font-size="9.2" font-weight="bold" text-anchor="start" fill="#000" textLength="18.9" lengthAdjust="spacingAndGlyphs" style="stroke-width:0.4px">RAJI</text>
<text x="97.1" y="290.5" font-size="5" font-weight="bold" fill="#000" style="stroke-width:0.3px" textLength="6.6" lengthAdjust="spacing">WT</text>
<line x1="42.5" y1="299" x2="42.5" y2="373.3" stroke="#1e1e1e" stroke-width="1.3"/>
<line x1="39.5" y1="299" x2="42.5" y2="299" stroke="#1e1e1e" stroke-width="1.1"/>
<text x="37.3" y="301.7" font-size="7.6" font-weight="normal" text-anchor="end" fill="#1a1a1a">1500</text>
<line x1="39.5" y1="323.8" x2="42.5" y2="323.8" stroke="#1e1e1e" stroke-width="1.1"/>
<text x="37.3" y="326.5" font-size="7.6" font-weight="normal" text-anchor="end" fill="#1a1a1a">1000</text>
<line x1="39.5" y1="348.1" x2="42.5" y2="348.1" stroke="#1e1e1e" stroke-width="1.1"/>
<text x="37.3" y="350.8" font-size="7.6" font-weight="normal" text-anchor="end" fill="#1a1a1a">500</text>
<line x1="39.5" y1="372.7" x2="42.5" y2="372.7" stroke="#1e1e1e" stroke-width="1.1"/>
<text x="37.3" y="375.4" font-size="7.6" font-weight="normal" text-anchor="end" fill="#1a1a1a">0</text>
<line x1="42" y1="373.5" x2="147.8" y2="373.5" stroke="#1e1e1e" stroke-width="1.3"/>
<line x1="50.8" y1="373.5" x2="50.8" y2="376.5" stroke="#1e1e1e" stroke-width="1"/>
<text x="50.8" y="384.2" font-size="7.6" font-weight="normal" text-anchor="middle" fill="#1a1a1a">6</text>
<line x1="63.43" y1="373.5" x2="63.43" y2="376.5" stroke="#1e1e1e" stroke-width="1"/>
<text x="63.43" y="384.2" font-size="7.6" font-weight="normal" text-anchor="middle" fill="#1a1a1a">8</text>
<line x1="76.06" y1="373.5" x2="76.06" y2="376.5" stroke="#1e1e1e" stroke-width="1"/>
<text x="76.06" y="384.2" font-size="7.6" font-weight="normal" text-anchor="middle" fill="#1a1a1a">10</text>
<line x1="88.69" y1="373.5" x2="88.69" y2="376.5" stroke="#1e1e1e" stroke-width="1"/>
<text x="88.69" y="384.2" font-size="7.6" font-weight="normal" text-anchor="middle" fill="#1a1a1a">12</text>
<line x1="101.32" y1="373.5" x2="101.32" y2="376.5" stroke="#1e1e1e" stroke-width="1"/>
<text x="101.32" y="384.2" font-size="7.6" font-weight="normal" text-anchor="middle" fill="#1a1a1a">14</text>
<line x1="113.95" y1="373.5" x2="113.95" y2="376.5" stroke="#1e1e1e" stroke-width="1"/>
<text x="113.95" y="384.2" font-size="7.6" font-weight="normal" text-anchor="middle" fill="#1a1a1a">16</text>
<line x1="126.58" y1="373.5" x2="126.58" y2="376.5" stroke="#1e1e1e" stroke-width="1"/>
<text x="126.58" y="384.2" font-size="7.6" font-weight="normal" text-anchor="middle" fill="#1a1a1a">18</text>
<line x1="139.21" y1="373.5" x2="139.21" y2="376.5" stroke="#1e1e1e" stroke-width="1"/>
<text x="139.21" y="384.2" font-size="7.6" font-weight="normal" text-anchor="middle" fill="#1a1a1a">20</text>
<text transform="translate(15.37,336.25) rotate(-90)" x="0" y="0" font-size="8.8" font-weight="normal" text-anchor="middle" fill="#111" textLength="83.9" lengthAdjust="spacingAndGlyphs" style="stroke-width:0.3px">Average tumor volume (mm3)</text>
<text x="94.85" y="395.5" font-size="9.8" font-weight="normal" text-anchor="middle" fill="#111" textLength="24.3" lengthAdjust="spacingAndGlyphs" style="stroke-width:0.35px">Time (d)</text>
<line x1="63.43" y1="367.5" x2="63.43" y2="371.5" stroke="#c8102e" stroke-width="1"/>
<line x1="62.23" y1="367.5" x2="64.63" y2="367.5" stroke="#c8102e" stroke-width="1"/>
<line x1="62.23" y1="371.5" x2="64.63" y2="371.5" stroke="#c8102e" stroke-width="1"/>
<line x1="76.06" y1="363.5" x2="76.06" y2="369.5" stroke="#c8102e" stroke-width="1"/>
<line x1="74.86" y1="363.5" x2="77.26" y2="363.5" stroke="#c8102e" stroke-width="1"/>
<line x1="74.86" y1="369.5" x2="77.26" y2="369.5" stroke="#c8102e" stroke-width="1"/>
<line x1="88.69" y1="358.1" x2="88.69" y2="367.1" stroke="#c8102e" stroke-width="1"/>
<line x1="87.49" y1="358.1" x2="89.89" y2="358.1" stroke="#c8102e" stroke-width="1"/>
<line x1="87.49" y1="367.1" x2="89.89" y2="367.1" stroke="#c8102e" stroke-width="1"/>
<line x1="101.32" y1="351.2" x2="101.32" y2="361.2" stroke="#c8102e" stroke-width="1"/>
<line x1="100.12" y1="351.2" x2="102.52" y2="351.2" stroke="#c8102e" stroke-width="1"/>
<line x1="100.12" y1="361.2" x2="102.52" y2="361.2" stroke="#c8102e" stroke-width="1"/>
<line x1="113.95" y1="341" x2="113.95" y2="355" stroke="#c8102e" stroke-width="1"/>
<line x1="112.75" y1="341" x2="115.15" y2="341" stroke="#c8102e" stroke-width="1"/>
<line x1="112.75" y1="355" x2="115.15" y2="355" stroke="#c8102e" stroke-width="1"/>
<line x1="126.58" y1="323.9" x2="126.58" y2="341.3" stroke="#c8102e" stroke-width="1"/>
<line x1="125.38" y1="323.9" x2="127.78" y2="323.9" stroke="#c8102e" stroke-width="1"/>
<line x1="125.38" y1="341.3" x2="127.78" y2="341.3" stroke="#c8102e" stroke-width="1"/>
<line x1="139.21" y1="315.5" x2="139.21" y2="335.5" stroke="#c8102e" stroke-width="1"/>
<line x1="138.01" y1="315.5" x2="140.41" y2="315.5" stroke="#c8102e" stroke-width="1"/>
<line x1="138.01" y1="335.5" x2="140.41" y2="335.5" stroke="#c8102e" stroke-width="1"/>
<line x1="88.69" y1="370.9" x2="88.69" y2="372.9" stroke="#0f3f7c" stroke-width="1"/>
<line x1="87.49" y1="370.9" x2="89.89" y2="370.9" stroke="#0f3f7c" stroke-width="1"/>
<line x1="87.49" y1="372.9" x2="89.89" y2="372.9" stroke="#0f3f7c" stroke-width="1"/>
<line x1="101.32" y1="365.2" x2="101.32" y2="370.2" stroke="#0f3f7c" stroke-width="1"/>
<line x1="100.12" y1="365.2" x2="102.52" y2="365.2" stroke="#0f3f7c" stroke-width="1"/>
<line x1="100.12" y1="370.2" x2="102.52" y2="370.2" stroke="#0f3f7c" stroke-width="1"/>
<line x1="113.95" y1="356.6" x2="113.95" y2="365.8" stroke="#0f3f7c" stroke-width="1"/>
<line x1="112.75" y1="356.6" x2="115.15" y2="356.6" stroke="#0f3f7c" stroke-width="1"/>
<line x1="112.75" y1="365.8" x2="115.15" y2="365.8" stroke="#0f3f7c" stroke-width="1"/>
<line x1="126.58" y1="344.6" x2="126.58" y2="356.2" stroke="#0f3f7c" stroke-width="1"/>
<line x1="125.38" y1="344.6" x2="127.78" y2="344.6" stroke="#0f3f7c" stroke-width="1"/>
<line x1="125.38" y1="356.2" x2="127.78" y2="356.2" stroke="#0f3f7c" stroke-width="1"/>
<line x1="139.21" y1="340.3" x2="139.21" y2="350.3" stroke="#0f3f7c" stroke-width="1"/>
<line x1="138.01" y1="340.3" x2="140.41" y2="340.3" stroke="#0f3f7c" stroke-width="1"/>
<line x1="138.01" y1="350.3" x2="140.41" y2="350.3" stroke="#0f3f7c" stroke-width="1"/>
<polyline points="50.8,372 63.43,369.5 76.06,366.5 88.69,362.6 101.32,356.2 113.95,348 126.58,332.6 139.21,325.5" fill="none" stroke="#c8102e" stroke-width="1.8" stroke-linejoin="round"/>
<polyline points="50.8,373 63.43,373 76.06,373 88.69,371.9 101.32,367.7 113.95,361.2 126.58,350.4 139.21,345.3" fill="none" stroke="#0f3f7c" stroke-width="1.8" stroke-linejoin="round"/>
<polyline points="142,319.7 145,319.7 145,343.5 142,343.5" fill="none" stroke="#1e1e1e" stroke-width="1"/>
<text x="146.8" y="336.3" font-size="7" font-weight="normal" text-anchor="start" fill="#1a1a1a">**</text>
<text x="252.2" y="293.4" font-size="9.2" font-weight="bold" text-anchor="start" fill="#000" textLength="18.9" lengthAdjust="spacingAndGlyphs" style="stroke-width:0.4px">RAJI</text>
<text x="271.9" y="290.5" font-size="5" font-weight="bold" fill="#000" style="stroke-width:0.3px" textLength="37" lengthAdjust="spacing">FBXO11 KO#1</text>
<line x1="217.5" y1="296.8" x2="217.5" y2="372.8" stroke="#1e1e1e" stroke-width="1.3"/>
<line x1="214.5" y1="305.1" x2="217.5" y2="305.1" stroke="#1e1e1e" stroke-width="1.1"/>
<text x="213" y="307.8" font-size="7.6" font-weight="normal" text-anchor="end" fill="#1a1a1a">800</text>
<line x1="214.5" y1="322.2" x2="217.5" y2="322.2" stroke="#1e1e1e" stroke-width="1.1"/>
<text x="213" y="324.9" font-size="7.6" font-weight="normal" text-anchor="end" fill="#1a1a1a">600</text>
<line x1="214.5" y1="338.6" x2="217.5" y2="338.6" stroke="#1e1e1e" stroke-width="1.1"/>
<text x="213" y="341.3" font-size="7.6" font-weight="normal" text-anchor="end" fill="#1a1a1a">400</text>
<line x1="214.5" y1="355.6" x2="217.5" y2="355.6" stroke="#1e1e1e" stroke-width="1.1"/>
<text x="213" y="358.3" font-size="7.6" font-weight="normal" text-anchor="end" fill="#1a1a1a">200</text>
<line x1="214.5" y1="372.2" x2="217.5" y2="372.2" stroke="#1e1e1e" stroke-width="1.1"/>
<text x="213" y="374.9" font-size="7.6" font-weight="normal" text-anchor="end" fill="#1a1a1a">0</text>
<line x1="217.6" y1="372.5" x2="323.8" y2="372.5" stroke="#1e1e1e" stroke-width="1.3"/>
<line x1="222.4" y1="372.5" x2="222.4" y2="375.5" stroke="#1e1e1e" stroke-width="1"/>
<text x="222.4" y="384.2" font-size="7.6" font-weight="normal" text-anchor="middle" fill="#1a1a1a">2</text>
<line x1="236.27" y1="372.5" x2="236.27" y2="375.5" stroke="#1e1e1e" stroke-width="1"/>
<text x="236.27" y="384.2" font-size="7.6" font-weight="normal" text-anchor="middle" fill="#1a1a1a">6</text>
<line x1="250.14" y1="372.5" x2="250.14" y2="375.5" stroke="#1e1e1e" stroke-width="1"/>
<text x="250.14" y="384.2" font-size="7.6" font-weight="normal" text-anchor="middle" fill="#1a1a1a">10</text>
<line x1="264" y1="372.5" x2="264" y2="375.5" stroke="#1e1e1e" stroke-width="1"/>
<text x="264" y="384.2" font-size="7.6" font-weight="normal" text-anchor="middle" fill="#1a1a1a">14</text>
<line x1="277.87" y1="372.5" x2="277.87" y2="375.5" stroke="#1e1e1e" stroke-width="1"/>
<text x="277.87" y="384.2" font-size="7.6" font-weight="normal" text-anchor="middle" fill="#1a1a1a">18</text>
<line x1="291.74" y1="372.5" x2="291.74" y2="375.5" stroke="#1e1e1e" stroke-width="1"/>
<text x="291.74" y="384.2" font-size="7.6" font-weight="normal" text-anchor="middle" fill="#1a1a1a">22</text>
<line x1="305.61" y1="372.5" x2="305.61" y2="375.5" stroke="#1e1e1e" stroke-width="1"/>
<text x="305.61" y="384.2" font-size="7.6" font-weight="normal" text-anchor="middle" fill="#1a1a1a">26</text>
<line x1="319.48" y1="372.5" x2="319.48" y2="375.5" stroke="#1e1e1e" stroke-width="1"/>
<text x="319.48" y="384.2" font-size="7.6" font-weight="normal" text-anchor="middle" fill="#1a1a1a">30</text>
<text transform="translate(194.97,335.15) rotate(-90)" x="0" y="0" font-size="8.8" font-weight="normal" text-anchor="middle" fill="#111" textLength="84.7" lengthAdjust="spacingAndGlyphs" style="stroke-width:0.3px">Average tumor volume (mm3)</text>
<text x="270.95" y="395.9" font-size="9.8" font-weight="normal" text-anchor="middle" fill="#111" textLength="24.3" lengthAdjust="spacingAndGlyphs" style="stroke-width:0.35px">Time (d)</text>
<line x1="270.94" y1="360.8" x2="270.94" y2="365.4" stroke="#c8102e" stroke-width="1"/>
<line x1="269.74" y1="360.8" x2="272.14" y2="360.8" stroke="#c8102e" stroke-width="1"/>
<line x1="269.74" y1="365.4" x2="272.14" y2="365.4" stroke="#c8102e" stroke-width="1"/>
<line x1="277.87" y1="357.3" x2="277.87" y2="362" stroke="#c8102e" stroke-width="1"/>
<line x1="276.67" y1="357.3" x2="279.07" y2="357.3" stroke="#c8102e" stroke-width="1"/>
<line x1="276.67" y1="362" x2="279.07" y2="362" stroke="#c8102e" stroke-width="1"/>
<line x1="284.81" y1="351.5" x2="284.81" y2="357.3" stroke="#c8102e" stroke-width="1"/>
<line x1="283.61" y1="351.5" x2="286.01" y2="351.5" stroke="#c8102e" stroke-width="1"/>
<line x1="283.61" y1="357.3" x2="286.01" y2="357.3" stroke="#c8102e" stroke-width="1"/>
<line x1="291.74" y1="332" x2="291.74" y2="351.5" stroke="#c8102e" stroke-width="1"/>
<line x1="290.54" y1="332" x2="292.94" y2="332" stroke="#c8102e" stroke-width="1"/>
<line x1="290.54" y1="351.5" x2="292.94" y2="351.5" stroke="#c8102e" stroke-width="1"/>
<line x1="298.67" y1="325.7" x2="298.67" y2="347.4" stroke="#c8102e" stroke-width="1"/>
<line x1="297.47" y1="325.7" x2="299.87" y2="325.7" stroke="#c8102e" stroke-width="1"/>
<line x1="297.47" y1="347.4" x2="299.87" y2="347.4" stroke="#c8102e" stroke-width="1"/>
<line x1="305.61" y1="305.8" x2="305.61" y2="342.3" stroke="#c8102e" stroke-width="1"/>
<line x1="304.41" y1="305.8" x2="306.81" y2="305.8" stroke="#c8102e" stroke-width="1"/>
<line x1="304.41" y1="342.3" x2="306.81" y2="342.3" stroke="#c8102e" stroke-width="1"/>
<line x1="312.54" y1="301.9" x2="312.54" y2="337.7" stroke="#c8102e" stroke-width="1"/>
<line x1="311.34" y1="301.9" x2="313.74" y2="301.9" stroke="#c8102e" stroke-width="1"/>
<line x1="311.34" y1="337.7" x2="313.74" y2="337.7" stroke="#c8102e" stroke-width="1"/>
<line x1="319.48" y1="298.9" x2="319.48" y2="335.4" stroke="#c8102e" stroke-width="1"/>
<line x1="318.28" y1="298.9" x2="320.68" y2="298.9" stroke="#c8102e" stroke-width="1"/>
<line x1="318.28" y1="335.4" x2="320.68" y2="335.4" stroke="#c8102e" stroke-width="1"/>
<line x1="250.14" y1="367" x2="250.14" y2="371.5" stroke="#0f3f7c" stroke-width="1"/>
<line x1="248.94" y1="367" x2="251.34" y2="367" stroke="#0f3f7c" stroke-width="1"/>
<line x1="248.94" y1="371.5" x2="251.34" y2="371.5" stroke="#0f3f7c" stroke-width="1"/>
<line x1="257.07" y1="366.5" x2="257.07" y2="371" stroke="#0f3f7c" stroke-width="1"/>
<line x1="255.87" y1="366.5" x2="258.27" y2="366.5" stroke="#0f3f7c" stroke-width="1"/>
<line x1="255.87" y1="371" x2="258.27" y2="371" stroke="#0f3f7c" stroke-width="1"/>
<line x1="264" y1="365.5" x2="264" y2="370" stroke="#0f3f7c" stroke-width="1"/>
<line x1="262.8" y1="365.5" x2="265.2" y2="365.5" stroke="#0f3f7c" stroke-width="1"/>
<line x1="262.8" y1="370" x2="265.2" y2="370" stroke="#0f3f7c" stroke-width="1"/>
<line x1="270.94" y1="365" x2="270.94" y2="369.5" stroke="#0f3f7c" stroke-width="1"/>
<line x1="269.74" y1="365" x2="272.14" y2="365" stroke="#0f3f7c" stroke-width="1"/>
<line x1="269.74" y1="369.5" x2="272.14" y2="369.5" stroke="#0f3f7c" stroke-width="1"/>
<line x1="277.87" y1="363.5" x2="277.87" y2="368.5" stroke="#0f3f7c" stroke-width="1"/>
<line x1="276.67" y1="363.5" x2="279.07" y2="363.5" stroke="#0f3f7c" stroke-width="1"/>
<line x1="276.67" y1="368.5" x2="279.07" y2="368.5" stroke="#0f3f7c" stroke-width="1"/>
<line x1="284.81" y1="361.5" x2="284.81" y2="367" stroke="#0f3f7c" stroke-width="1"/>
<line x1="283.61" y1="361.5" x2="286.01" y2="361.5" stroke="#0f3f7c" stroke-width="1"/>
<line x1="283.61" y1="367" x2="286.01" y2="367" stroke="#0f3f7c" stroke-width="1"/>
<line x1="291.74" y1="359.3" x2="291.74" y2="363.8" stroke="#0f3f7c" stroke-width="1"/>
<line x1="290.54" y1="359.3" x2="292.94" y2="359.3" stroke="#0f3f7c" stroke-width="1"/>
<line x1="290.54" y1="363.8" x2="292.94" y2="363.8" stroke="#0f3f7c" stroke-width="1"/>
<line x1="298.67" y1="355.7" x2="298.67" y2="361.2" stroke="#0f3f7c" stroke-width="1"/>
<line x1="297.47" y1="355.7" x2="299.87" y2="355.7" stroke="#0f3f7c" stroke-width="1"/>
<line x1="297.47" y1="361.2" x2="299.87" y2="361.2" stroke="#0f3f7c" stroke-width="1"/>
<line x1="305.61" y1="354.3" x2="305.61" y2="360.3" stroke="#0f3f7c" stroke-width="1"/>
<line x1="304.41" y1="354.3" x2="306.81" y2="354.3" stroke="#0f3f7c" stroke-width="1"/>
<line x1="304.41" y1="360.3" x2="306.81" y2="360.3" stroke="#0f3f7c" stroke-width="1"/>
<line x1="312.54" y1="353.4" x2="312.54" y2="359.6" stroke="#0f3f7c" stroke-width="1"/>
<line x1="311.34" y1="353.4" x2="313.74" y2="353.4" stroke="#0f3f7c" stroke-width="1"/>
<line x1="311.34" y1="359.6" x2="313.74" y2="359.6" stroke="#0f3f7c" stroke-width="1"/>
<line x1="319.48" y1="345.8" x2="319.48" y2="358.5" stroke="#0f3f7c" stroke-width="1"/>
<line x1="318.28" y1="345.8" x2="320.68" y2="345.8" stroke="#0f3f7c" stroke-width="1"/>
<line x1="318.28" y1="358.5" x2="320.68" y2="358.5" stroke="#0f3f7c" stroke-width="1"/>
<polyline points="222.4,372 229.33,372 236.27,371.5 243.2,371 250.14,370.5 257.07,370 264,368.2 270.94,362.6 277.87,359.6 284.81,355 291.74,342.3 298.67,337.2 305.61,324.3 312.54,320.4 319.48,316.9" fill="none" stroke="#c8102e" stroke-width="1.8" stroke-linejoin="round"/>
<polyline points="222.4,372 229.33,371.5 236.27,371 243.2,370 250.14,369.5 257.07,368.8 264,367.7 270.94,367.2 277.87,366.1 284.81,364.2 291.74,361.2 298.67,358.5 305.61,356.9 312.54,355.7 319.48,352.7" fill="none" stroke="#0f3f7c" stroke-width="1.8" stroke-linejoin="round"/>
<polyline points="322.4,317.4 325.4,317.4 325.4,352 322.4,352" fill="none" stroke="#1e1e1e" stroke-width="1"/>
<text x="327.8" y="338.6" font-size="7" font-weight="normal" text-anchor="start" fill="#1a1a1a">**</text>
<text x="415" y="293.4" font-size="9.2" font-weight="bold" text-anchor="start" fill="#000" textLength="18.9" lengthAdjust="spacingAndGlyphs" style="stroke-width:0.4px">RAJI</text>
<text x="434.7" y="290.5" font-size="5" font-weight="bold" fill="#000" style="stroke-width:0.3px" textLength="37" lengthAdjust="spacing">FBXO11 KO#2</text>
<line x1="395.5" y1="298.3" x2="395.5" y2="373.1" stroke="#1e1e1e" stroke-width="1.3"/>
<line x1="392.5" y1="304.6" x2="395.5" y2="304.6" stroke="#1e1e1e" stroke-width="1.1"/>
<text x="390.3" y="307.3" font-size="7.6" font-weight="normal" text-anchor="end" fill="#1a1a1a">500</text>
<line x1="392.5" y1="318.3" x2="395.5" y2="318.3" stroke="#1e1e1e" stroke-width="1.1"/>
<text x="390.3" y="321" font-size="7.6" font-weight="normal" text-anchor="end" fill="#1a1a1a">400</text>
<line x1="392.5" y1="331.7" x2="395.5" y2="331.7" stroke="#1e1e1e" stroke-width="1.1"/>
<text x="390.3" y="334.4" font-size="7.6" font-weight="normal" text-anchor="end" fill="#1a1a1a">300</text>
<line x1="392.5" y1="345.4" x2="395.5" y2="345.4" stroke="#1e1e1e" stroke-width="1.1"/>
<text x="390.3" y="348.1" font-size="7.6" font-weight="normal" text-anchor="end" fill="#1a1a1a">200</text>
<line x1="392.5" y1="359" x2="395.5" y2="359" stroke="#1e1e1e" stroke-width="1.1"/>
<text x="390.3" y="361.7" font-size="7.6" font-weight="normal" text-anchor="end" fill="#1a1a1a">100</text>
<line x1="392.5" y1="372.5" x2="395.5" y2="372.5" stroke="#1e1e1e" stroke-width="1.1"/>
<text x="390.3" y="375.2" font-size="7.6" font-weight="normal" text-anchor="end" fill="#1a1a1a">0</text>
<line x1="395" y1="373.5" x2="499.2" y2="373.5" stroke="#1e1e1e" stroke-width="1.3"/>
<line x1="398.9" y1="373.5" x2="398.9" y2="376.5" stroke="#1e1e1e" stroke-width="1"/>
<line x1="409.62" y1="373.5" x2="409.62" y2="376.5" stroke="#1e1e1e" stroke-width="1"/>
<line x1="420.34" y1="373.5" x2="420.34" y2="376.5" stroke="#1e1e1e" stroke-width="1"/>
<line x1="431.06" y1="373.5" x2="431.06" y2="376.5" stroke="#1e1e1e" stroke-width="1"/>
<line x1="441.78" y1="373.5" x2="441.78" y2="376.5" stroke="#1e1e1e" stroke-width="1"/>
<line x1="452.5" y1="373.5" x2="452.5" y2="376.5" stroke="#1e1e1e" stroke-width="1"/>
<line x1="463.22" y1="373.5" x2="463.22" y2="376.5" stroke="#1e1e1e" stroke-width="1"/>
<line x1="473.94" y1="373.5" x2="473.94" y2="376.5" stroke="#1e1e1e" stroke-width="1"/>
<line x1="484.66" y1="373.5" x2="484.66" y2="376.5" stroke="#1e1e1e" stroke-width="1"/>
<line x1="495.38" y1="373.5" x2="495.38" y2="376.5" stroke="#1e1e1e" stroke-width="1"/>
<text transform="translate(402.3,381) rotate(-45)" x="0" y="0" font-size="7.8" font-weight="normal" text-anchor="end" fill="#1a1a1a">6</text>
<text transform="translate(413.02,381) rotate(-45)" x="0" y="0" font-size="7.8" font-weight="normal" text-anchor="end" fill="#1a1a1a">10</text>
<text transform="translate(423.74,381) rotate(-45)" x="0" y="0" font-size="7.8" font-weight="normal" text-anchor="end" fill="#1a1a1a">14</text>
<text transform="translate(434.46,381) rotate(-45)" x="0" y="0" font-size="7.8" font-weight="normal" text-anchor="end" fill="#1a1a1a">18</text>
<text transform="translate(445.18,381) rotate(-45)" x="0" y="0" font-size="7.8" font-weight="normal" text-anchor="end" fill="#1a1a1a">23</text>
<text transform="translate(455.9,381) rotate(-45)" x="0" y="0" font-size="7.8" font-weight="normal" text-anchor="end" fill="#1a1a1a">29</text>
<text transform="translate(466.62,381) rotate(-45)" x="0" y="0" font-size="7.8" font-weight="normal" text-anchor="end" fill="#1a1a1a">33</text>
<text transform="translate(477.34,381) rotate(-45)" x="0" y="0" font-size="7.8" font-weight="normal" text-anchor="end" fill="#1a1a1a">37</text>
<text transform="translate(488.06,381) rotate(-45)" x="0" y="0" font-size="7.8" font-weight="normal" text-anchor="end" fill="#1a1a1a">41</text>
<text transform="translate(498.78,381) rotate(-45)" x="0" y="0" font-size="7.8" font-weight="normal" text-anchor="end" fill="#1a1a1a">45</text>
<text transform="translate(371.97,335.55) rotate(-90)" x="0" y="0" font-size="8.8" font-weight="normal" text-anchor="middle" fill="#111" textLength="83.9" lengthAdjust="spacingAndGlyphs" style="stroke-width:0.3px">Average tumor volume (mm3)</text>
<text x="447.9" y="396.4" font-size="9.8" font-weight="normal" text-anchor="middle" fill="#111" textLength="24.3" lengthAdjust="spacingAndGlyphs" style="stroke-width:0.35px">Time (d)</text>
<line x1="425.7" y1="365.5" x2="425.7" y2="372" stroke="#c8102e" stroke-width="1"/>
<line x1="424.5" y1="365.5" x2="426.9" y2="365.5" stroke="#c8102e" stroke-width="1"/>
<line x1="424.5" y1="372" x2="426.9" y2="372" stroke="#c8102e" stroke-width="1"/>
<line x1="431.06" y1="364" x2="431.06" y2="371" stroke="#c8102e" stroke-width="1"/>
<line x1="429.86" y1="364" x2="432.26" y2="364" stroke="#c8102e" stroke-width="1"/>
<line x1="429.86" y1="371" x2="432.26" y2="371" stroke="#c8102e" stroke-width="1"/>
<line x1="436.42" y1="360.8" x2="436.42" y2="369" stroke="#c8102e" stroke-width="1"/>
<line x1="435.22" y1="360.8" x2="437.62" y2="360.8" stroke="#c8102e" stroke-width="1"/>
<line x1="435.22" y1="369" x2="437.62" y2="369" stroke="#c8102e" stroke-width="1"/>
<line x1="441.78" y1="360" x2="441.78" y2="369" stroke="#c8102e" stroke-width="1"/>
<line x1="440.58" y1="360" x2="442.98" y2="360" stroke="#c8102e" stroke-width="1"/>
<line x1="440.58" y1="369" x2="442.98" y2="369" stroke="#c8102e" stroke-width="1"/>
<line x1="447.14" y1="345" x2="447.14" y2="365" stroke="#c8102e" stroke-width="1"/>
<line x1="445.94" y1="345" x2="448.34" y2="345" stroke="#c8102e" stroke-width="1"/>
<line x1="445.94" y1="365" x2="448.34" y2="365" stroke="#c8102e" stroke-width="1"/>
<line x1="452.5" y1="333" x2="452.5" y2="366.5" stroke="#c8102e" stroke-width="1"/>
<line x1="451.3" y1="333" x2="453.7" y2="333" stroke="#c8102e" stroke-width="1"/>
<line x1="451.3" y1="366.5" x2="453.7" y2="366.5" stroke="#c8102e" stroke-width="1"/>
<line x1="457.86" y1="329.6" x2="457.86" y2="360.8" stroke="#c8102e" stroke-width="1"/>
<line x1="456.66" y1="329.6" x2="459.06" y2="329.6" stroke="#c8102e" stroke-width="1"/>
<line x1="456.66" y1="360.8" x2="459.06" y2="360.8" stroke="#c8102e" stroke-width="1"/>
<line x1="463.22" y1="319.7" x2="463.22" y2="348.8" stroke="#c8102e" stroke-width="1"/>
<line x1="462.02" y1="319.7" x2="464.42" y2="319.7" stroke="#c8102e" stroke-width="1"/>
<line x1="462.02" y1="348.8" x2="464.42" y2="348.8" stroke="#c8102e" stroke-width="1"/>
<line x1="468.58" y1="317" x2="468.58" y2="344" stroke="#c8102e" stroke-width="1"/>
<line x1="467.38" y1="317" x2="469.78" y2="317" stroke="#c8102e" stroke-width="1"/>
<line x1="467.38" y1="344" x2="469.78" y2="344" stroke="#c8102e" stroke-width="1"/>
<line x1="473.94" y1="315.8" x2="473.94" y2="342.3" stroke="#c8102e" stroke-width="1"/>
<line x1="472.74" y1="315.8" x2="475.14" y2="315.8" stroke="#c8102e" stroke-width="1"/>
<line x1="472.74" y1="342.3" x2="475.14" y2="342.3" stroke="#c8102e" stroke-width="1"/>
<line x1="479.3" y1="314.2" x2="479.3" y2="336.5" stroke="#c8102e" stroke-width="1"/>
<line x1="478.1" y1="314.2" x2="480.5" y2="314.2" stroke="#c8102e" stroke-width="1"/>
<line x1="478.1" y1="336.5" x2="480.5" y2="336.5" stroke="#c8102e" stroke-width="1"/>
<line x1="484.66" y1="309.5" x2="484.66" y2="331.2" stroke="#c8102e" stroke-width="1"/>
<line x1="483.46" y1="309.5" x2="485.86" y2="309.5" stroke="#c8102e" stroke-width="1"/>
<line x1="483.46" y1="331.2" x2="485.86" y2="331.2" stroke="#c8102e" stroke-width="1"/>
<line x1="490.02" y1="308.2" x2="490.02" y2="326.2" stroke="#c8102e" stroke-width="1"/>
<line x1="488.82" y1="308.2" x2="491.22" y2="308.2" stroke="#c8102e" stroke-width="1"/>
<line x1="488.82" y1="326.2" x2="491.22" y2="326.2" stroke="#c8102e" stroke-width="1"/>
<line x1="495.38" y1="305.8" x2="495.38" y2="322.7" stroke="#c8102e" stroke-width="1"/>
<line x1="494.18" y1="305.8" x2="496.58" y2="305.8" stroke="#c8102e" stroke-width="1"/>
<line x1="494.18" y1="322.7" x2="496.58" y2="322.7" stroke="#c8102e" stroke-width="1"/>
<line x1="420.34" y1="369.5" x2="420.34" y2="373.5" stroke="#0f3f7c" stroke-width="1"/>
<line x1="419.14" y1="369.5" x2="421.54" y2="369.5" stroke="#0f3f7c" stroke-width="1"/>
<line x1="419.14" y1="373.5" x2="421.54" y2="373.5" stroke="#0f3f7c" stroke-width="1"/>
<line x1="425.7" y1="365.9" x2="425.7" y2="372.3" stroke="#0f3f7c" stroke-width="1"/>
<line x1="424.5" y1="365.9" x2="426.9" y2="365.9" stroke="#0f3f7c" stroke-width="1"/>
<line x1="424.5" y1="372.3" x2="426.9" y2="372.3" stroke="#0f3f7c" stroke-width="1"/>
<line x1="431.06" y1="363" x2="431.06" y2="372.3" stroke="#0f3f7c" stroke-width="1"/>
<line x1="429.86" y1="363" x2="432.26" y2="363" stroke="#0f3f7c" stroke-width="1"/>
<line x1="429.86" y1="372.3" x2="432.26" y2="372.3" stroke="#0f3f7c" stroke-width="1"/>
<line x1="436.42" y1="361.2" x2="436.42" y2="371.2" stroke="#0f3f7c" stroke-width="1"/>
<line x1="435.22" y1="361.2" x2="437.62" y2="361.2" stroke="#0f3f7c" stroke-width="1"/>
<line x1="435.22" y1="371.2" x2="437.62" y2="371.2" stroke="#0f3f7c" stroke-width="1"/>
<line x1="441.78" y1="357.3" x2="441.78" y2="371.2" stroke="#0f3f7c" stroke-width="1"/>
<line x1="440.58" y1="357.3" x2="442.98" y2="357.3" stroke="#0f3f7c" stroke-width="1"/>
<line x1="440.58" y1="371.2" x2="442.98" y2="371.2" stroke="#0f3f7c" stroke-width="1"/>
<line x1="447.14" y1="351.5" x2="447.14" y2="366.5" stroke="#0f3f7c" stroke-width="1"/>
<line x1="445.94" y1="351.5" x2="448.34" y2="351.5" stroke="#0f3f7c" stroke-width="1"/>
<line x1="445.94" y1="366.5" x2="448.34" y2="366.5" stroke="#0f3f7c" stroke-width="1"/>
<line x1="452.5" y1="348" x2="452.5" y2="364.2" stroke="#0f3f7c" stroke-width="1"/>
<line x1="451.3" y1="348" x2="453.7" y2="348" stroke="#0f3f7c" stroke-width="1"/>
<line x1="451.3" y1="364.2" x2="453.7" y2="364.2" stroke="#0f3f7c" stroke-width="1"/>
<line x1="457.86" y1="345" x2="457.86" y2="365.4" stroke="#0f3f7c" stroke-width="1"/>
<line x1="456.66" y1="345" x2="459.06" y2="345" stroke="#0f3f7c" stroke-width="1"/>
<line x1="456.66" y1="365.4" x2="459.06" y2="365.4" stroke="#0f3f7c" stroke-width="1"/>
<line x1="463.22" y1="343.5" x2="463.22" y2="365.4" stroke="#0f3f7c" stroke-width="1"/>
<line x1="462.02" y1="343.5" x2="464.42" y2="343.5" stroke="#0f3f7c" stroke-width="1"/>
<line x1="462.02" y1="365.4" x2="464.42" y2="365.4" stroke="#0f3f7c" stroke-width="1"/>
<line x1="468.58" y1="342.8" x2="468.58" y2="363" stroke="#0f3f7c" stroke-width="1"/>
<line x1="467.38" y1="342.8" x2="469.78" y2="342.8" stroke="#0f3f7c" stroke-width="1"/>
<line x1="467.38" y1="363" x2="469.78" y2="363" stroke="#0f3f7c" stroke-width="1"/>
<line x1="473.94" y1="341.8" x2="473.94" y2="362.6" stroke="#0f3f7c" stroke-width="1"/>
<line x1="472.74" y1="341.8" x2="475.14" y2="341.8" stroke="#0f3f7c" stroke-width="1"/>
<line x1="472.74" y1="362.6" x2="475.14" y2="362.6" stroke="#0f3f7c" stroke-width="1"/>
<line x1="479.3" y1="341.2" x2="479.3" y2="360.8" stroke="#0f3f7c" stroke-width="1"/>
<line x1="478.1" y1="341.2" x2="480.5" y2="341.2" stroke="#0f3f7c" stroke-width="1"/>
<line x1="478.1" y1="360.8" x2="480.5" y2="360.8" stroke="#0f3f7c" stroke-width="1"/>
<line x1="484.66" y1="337.7" x2="484.66" y2="356.2" stroke="#0f3f7c" stroke-width="1"/>
<line x1="483.46" y1="337.7" x2="485.86" y2="337.7" stroke="#0f3f7c" stroke-width="1"/>
<line x1="483.46" y1="356.2" x2="485.86" y2="356.2" stroke="#0f3f7c" stroke-width="1"/>
<line x1="490.02" y1="335" x2="490.02" y2="351" stroke="#0f3f7c" stroke-width="1"/>
<line x1="488.82" y1="335" x2="491.22" y2="335" stroke="#0f3f7c" stroke-width="1"/>
<line x1="488.82" y1="351" x2="491.22" y2="351" stroke="#0f3f7c" stroke-width="1"/>
<line x1="495.38" y1="335" x2="495.38" y2="349.2" stroke="#0f3f7c" stroke-width="1"/>
<line x1="494.18" y1="335" x2="496.58" y2="335" stroke="#0f3f7c" stroke-width="1"/>
<line x1="494.18" y1="349.2" x2="496.58" y2="349.2" stroke="#0f3f7c" stroke-width="1"/>
<polyline points="398.9,373 404.26,373 409.62,373 414.98,373 420.34,371.8 425.7,370.5 431.06,368.8 436.42,367.7 441.78,365.9 447.14,355 452.5,347.4 457.86,342.3 463.22,334.2 468.58,329.6 473.94,328.5 479.3,325 484.66,320.4 490.02,316.9 495.38,314.6" fill="none" stroke="#c8102e" stroke-width="1.8" stroke-linejoin="round"/>
<polyline points="398.9,373 404.26,373 409.62,373 414.98,373 420.34,371.8 425.7,370.5 431.06,368.8 436.42,367.7 441.78,365.9 447.14,358.5 452.5,356.2 457.86,355 463.22,354.3 468.58,353.4 473.94,352.7 479.3,351.1 484.66,346.9 490.02,342.8 495.38,342.3" fill="none" stroke="#0f3f7c" stroke-width="1.8" stroke-linejoin="round"/>
<polyline points="497.4,314.2 500.4,314.2 500.4,340.5 497.4,340.5" fill="none" stroke="#1e1e1e" stroke-width="1"/>
<text x="502.8" y="331.3" font-size="7" font-weight="normal" text-anchor="start" fill="#1a1a1a">**</text>
<rect x="221.2" y="402.7" width="98.5" height="13.5" fill="#fff" stroke="#222" stroke-width="1.1"/>
<line x1="223.8" y1="409.45" x2="231.2" y2="409.45" stroke="#c8102e" stroke-width="1.6"/>
<text x="233.5" y="411.95" font-size="7" font-weight="normal" text-anchor="start" fill="#1a1a1a" textLength="30.7" lengthAdjust="spacingAndGlyphs">− BI-3802</text>
<line x1="276.6" y1="409.45" x2="284.3" y2="409.45" stroke="#0f3f7c" stroke-width="1.6"/>
<text x="286.5" y="411.95" font-size="7" font-weight="normal" text-anchor="start" fill="#1a1a1a" textLength="30.5" lengthAdjust="spacingAndGlyphs">+ BI-3802</text>
<text x="76.5" y="435" font-size="9.2" font-weight="bold" text-anchor="start" fill="#000" textLength="18.9" lengthAdjust="spacingAndGlyphs" style="stroke-width:0.4px">RAJI</text>
<text x="96.2" y="432.1" font-size="5" font-weight="bold" fill="#000" style="stroke-width:0.3px" textLength="6.6" lengthAdjust="spacing">WT</text>
<line x1="42.5" y1="439.8" x2="42.5" y2="513.2" stroke="#1e1e1e" stroke-width="1.3"/>
<line x1="39.5" y1="439.8" x2="42.5" y2="439.8" stroke="#1e1e1e" stroke-width="1.1"/>
<text x="37.3" y="442.5" font-size="7.6" font-weight="normal" text-anchor="end" fill="#1a1a1a">150</text>
<line x1="39.5" y1="464.1" x2="42.5" y2="464.1" stroke="#1e1e1e" stroke-width="1.1"/>
<text x="37.3" y="466.8" font-size="7.6" font-weight="normal" text-anchor="end" fill="#1a1a1a">100</text>
<line x1="39.5" y1="488.4" x2="42.5" y2="488.4" stroke="#1e1e1e" stroke-width="1.1"/>
<text x="37.3" y="491.1" font-size="7.6" font-weight="normal" text-anchor="end" fill="#1a1a1a">50</text>
<line x1="39.5" y1="512.6" x2="42.5" y2="512.6" stroke="#1e1e1e" stroke-width="1.1"/>
<text x="37.3" y="515.3" font-size="7.6" font-weight="normal" text-anchor="end" fill="#1a1a1a">0</text>
<line x1="42.4" y1="512.5" x2="152.4" y2="512.5" stroke="#1e1e1e" stroke-width="1.3"/>
<line x1="42.4" y1="512.5" x2="42.4" y2="515.5" stroke="#1e1e1e" stroke-width="1"/>
<text x="42.4" y="524.2" font-size="7.6" font-weight="normal" text-anchor="middle" fill="#1a1a1a">0</text>
<line x1="73.9" y1="512.5" x2="73.9" y2="515.5" stroke="#1e1e1e" stroke-width="1"/>
<text x="73.9" y="524.2" font-size="7.6" font-weight="normal" text-anchor="middle" fill="#1a1a1a">2</text>
<line x1="105.8" y1="512.5" x2="105.8" y2="515.5" stroke="#1e1e1e" stroke-width="1"/>
<text x="105.8" y="524.2" font-size="7.6" font-weight="normal" text-anchor="middle" fill="#1a1a1a">4</text>
<line x1="136.9" y1="512.5" x2="136.9" y2="515.5" stroke="#1e1e1e" stroke-width="1"/>
<text x="136.9" y="524.2" font-size="7.6" font-weight="normal" text-anchor="middle" fill="#1a1a1a">6</text>
<text transform="translate(19.67,476.2) rotate(-90)" x="0" y="0" font-size="8.8" font-weight="normal" text-anchor="middle" fill="#111" textLength="87.8" lengthAdjust="spacingAndGlyphs" style="stroke-width:0.3px">Cumulative cell number (×10<tspan font-size="4.6" dy="-2.6">6</tspan><tspan dy="2.6">)</tspan></text>
<text x="97.1" y="534.1" font-size="9.8" font-weight="normal" text-anchor="middle" fill="#111" textLength="24.3" lengthAdjust="spacingAndGlyphs" style="stroke-width:0.35px">Time (d)</text>
<polyline points="42.4,512.2 73.9,511.6 105.8,508.6 136.9,501.2" fill="none" stroke="#f58c22" stroke-width="1.6" stroke-linejoin="round"/>
<polyline points="42.4,512.2 73.9,511.6 105.8,508 136.9,498.4" fill="none" stroke="#a2359f" stroke-width="1.6" stroke-linejoin="round"/>
<polyline points="42.4,512.2 73.9,511.5 105.8,506.7 136.9,493.8" fill="none" stroke="#2faa3c" stroke-width="1.6" stroke-linejoin="round"/>
<polyline points="42.4,512.2 73.9,511.5 105.8,506.2 136.9,492.4" fill="none" stroke="#0f3f7c" stroke-width="1.6" stroke-linejoin="round"/>
<polyline points="42.4,512.2 73.9,510.9 105.8,503 136.9,458.5" fill="none" stroke="#c8102e" stroke-width="1.6" stroke-linejoin="round"/>
<line x1="136.9" y1="455.5" x2="136.9" y2="460.8" stroke="#c8102e" stroke-width="1"/>
<line x1="135.5" y1="455.5" x2="138.3" y2="455.5" stroke="#c8102e" stroke-width="1"/>
<line x1="135.5" y1="460.8" x2="138.3" y2="460.8" stroke="#c8102e" stroke-width="1"/>
<polyline points="138.1,493.5 141.1,493.5 141.1,501.2 138.1,501.2" fill="none" stroke="#1e1e1e" stroke-width="1"/>
<text x="143.7" y="500" font-size="7" font-weight="normal" text-anchor="start" fill="#1a1a1a">**</text>
<text x="260" y="435" font-size="9.2" font-weight="bold" text-anchor="start" fill="#000" textLength="18.9" lengthAdjust="spacingAndGlyphs" style="stroke-width:0.4px">RAJI</text>
<text x="279.7" y="432.1" font-size="5" font-weight="bold" fill="#000" style="stroke-width:0.3px" textLength="37.4" lengthAdjust="spacing">FBXO11 KO#1</text>
<line x1="217.5" y1="438.8" x2="217.5" y2="512.7" stroke="#1e1e1e" stroke-width="1.3"/>
<line x1="214.5" y1="438.8" x2="217.5" y2="438.8" stroke="#1e1e1e" stroke-width="1.1"/>
<text x="212.9" y="441.5" font-size="7.6" font-weight="normal" text-anchor="end" fill="#1a1a1a">50</text>
<line x1="214.5" y1="453.5" x2="217.5" y2="453.5" stroke="#1e1e1e" stroke-width="1.1"/>
<text x="212.9" y="456.2" font-size="7.6" font-weight="normal" text-anchor="end" fill="#1a1a1a">40</text>
<line x1="214.5" y1="468.1" x2="217.5" y2="468.1" stroke="#1e1e1e" stroke-width="1.1"/>
<text x="212.9" y="470.8" font-size="7.6" font-weight="normal" text-anchor="end" fill="#1a1a1a">30</text>
<line x1="214.5" y1="482.7" x2="217.5" y2="482.7" stroke="#1e1e1e" stroke-width="1.1"/>
<text x="212.9" y="485.4" font-size="7.6" font-weight="normal" text-anchor="end" fill="#1a1a1a">20</text>
<line x1="214.5" y1="497.5" x2="217.5" y2="497.5" stroke="#1e1e1e" stroke-width="1.1"/>
<text x="212.9" y="500.2" font-size="7.6" font-weight="normal" text-anchor="end" fill="#1a1a1a">10</text>
<line x1="214.5" y1="512.1" x2="217.5" y2="512.1" stroke="#1e1e1e" stroke-width="1.1"/>
<text x="212.9" y="514.8" font-size="7.6" font-weight="normal" text-anchor="end" fill="#1a1a1a">0</text>
<line x1="217.3" y1="512.5" x2="327" y2="512.5" stroke="#1e1e1e" stroke-width="1.3"/>
<line x1="217.3" y1="512.5" x2="217.3" y2="515.5" stroke="#1e1e1e" stroke-width="1"/>
<text x="217.3" y="524.2" font-size="7.6" font-weight="normal" text-anchor="middle" fill="#1a1a1a">0</text>
<line x1="248.8" y1="512.5" x2="248.8" y2="515.5" stroke="#1e1e1e" stroke-width="1"/>
<text x="248.8" y="524.2" font-size="7.6" font-weight="normal" text-anchor="middle" fill="#1a1a1a">2</text>
<line x1="279.9" y1="512.5" x2="279.9" y2="515.5" stroke="#1e1e1e" stroke-width="1"/>
<text x="279.9" y="524.2" font-size="7.6" font-weight="normal" text-anchor="middle" fill="#1a1a1a">4</text>
<line x1="311.1" y1="512.5" x2="311.1" y2="515.5" stroke="#1e1e1e" stroke-width="1"/>
<text x="311.1" y="524.2" font-size="7.6" font-weight="normal" text-anchor="middle" fill="#1a1a1a">6</text>
<text transform="translate(199.67,475.55) rotate(-90)" x="0" y="0" font-size="8.8" font-weight="normal" text-anchor="middle" fill="#111" textLength="87.1" lengthAdjust="spacingAndGlyphs" style="stroke-width:0.3px">Cumulative cell number (x10<tspan font-size="4.6" dy="-2.6">6</tspan><tspan dy="2.6">)</tspan></text>
<text x="272.5" y="533.6" font-size="9.8" font-weight="normal" text-anchor="middle" fill="#111" textLength="24.3" lengthAdjust="spacingAndGlyphs" style="stroke-width:0.35px">Time (d)</text>
<polyline points="217.3,511.7 248.8,509.6 279.9,503.9 311.1,490.8" fill="none" stroke="#f58c22" stroke-width="1.6" stroke-linejoin="round"/>
<polyline points="217.3,511.6 248.8,509.3 279.9,502.3 311.1,486.8" fill="none" stroke="#a2359f" stroke-width="1.6" stroke-linejoin="round"/>
<polyline points="217.3,511.5 248.8,509 279.9,500.5 311.1,475.5" fill="none" stroke="#2faa3c" stroke-width="1.6" stroke-linejoin="round"/>
<polyline points="217.3,511.5 248.8,508.8 279.9,500 311.1,474.6" fill="none" stroke="#0f3f7c" stroke-width="1.6" stroke-linejoin="round"/>
<polyline points="217.3,511 248.8,508.1 279.9,498.4 311.1,451.5" fill="none" stroke="#c8102e" stroke-width="1.6" stroke-linejoin="round"/>
<line x1="311.1" y1="449.2" x2="311.1" y2="453.8" stroke="#c8102e" stroke-width="1"/>
<line x1="309.7" y1="449.2" x2="312.5" y2="449.2" stroke="#c8102e" stroke-width="1"/>
<line x1="309.7" y1="453.8" x2="312.5" y2="453.8" stroke="#c8102e" stroke-width="1"/>
<line x1="311.1" y1="472.5" x2="311.1" y2="476.5" stroke="#0f3f7c" stroke-width="1"/>
<line x1="309.7" y1="472.5" x2="312.5" y2="472.5" stroke="#0f3f7c" stroke-width="1"/>
<line x1="309.7" y1="476.5" x2="312.5" y2="476.5" stroke="#0f3f7c" stroke-width="1"/>
<line x1="311.1" y1="489" x2="311.1" y2="492.5" stroke="#f58c22" stroke-width="1"/>
<line x1="309.7" y1="489" x2="312.5" y2="489" stroke="#f58c22" stroke-width="1"/>
<line x1="309.7" y1="492.5" x2="312.5" y2="492.5" stroke="#f58c22" stroke-width="1"/>
<polyline points="313.9,472.3 316.9,472.3 316.9,490.8 313.9,490.8" fill="none" stroke="#1e1e1e" stroke-width="1"/>
<text x="318.6" y="484" font-size="7" font-weight="normal" text-anchor="start" fill="#1a1a1a">***</text>
<text x="424.9" y="435" font-size="9.2" font-weight="bold" text-anchor="start" fill="#000" textLength="18.9" lengthAdjust="spacingAndGlyphs" style="stroke-width:0.4px">RAJI</text>
<text x="444.6" y="432.1" font-size="5" font-weight="bold" fill="#000" style="stroke-width:0.3px" textLength="37" lengthAdjust="spacing">FBXO11 KO#2</text>
<line x1="394.5" y1="439.4" x2="394.5" y2="513.1" stroke="#1e1e1e" stroke-width="1.3"/>
<line x1="391.5" y1="439.4" x2="394.5" y2="439.4" stroke="#1e1e1e" stroke-width="1.1"/>
<text x="390.3" y="442.1" font-size="7.6" font-weight="normal" text-anchor="end" fill="#1a1a1a">40</text>
<line x1="391.5" y1="457.6" x2="394.5" y2="457.6" stroke="#1e1e1e" stroke-width="1.1"/>
<text x="390.3" y="460.3" font-size="7.6" font-weight="normal" text-anchor="end" fill="#1a1a1a">30</text>
<line x1="391.5" y1="476" x2="394.5" y2="476" stroke="#1e1e1e" stroke-width="1.1"/>
<text x="390.3" y="478.7" font-size="7.6" font-weight="normal" text-anchor="end" fill="#1a1a1a">20</text>
<line x1="391.5" y1="494.3" x2="394.5" y2="494.3" stroke="#1e1e1e" stroke-width="1.1"/>
<text x="390.3" y="497" font-size="7.6" font-weight="normal" text-anchor="end" fill="#1a1a1a">10</text>
<line x1="391.5" y1="512.5" x2="394.5" y2="512.5" stroke="#1e1e1e" stroke-width="1.1"/>
<text x="390.3" y="515.2" font-size="7.6" font-weight="normal" text-anchor="end" fill="#1a1a1a">0</text>
<line x1="394.5" y1="512.5" x2="503.2" y2="512.5" stroke="#1e1e1e" stroke-width="1.3"/>
<line x1="394.5" y1="512.5" x2="394.5" y2="515.5" stroke="#1e1e1e" stroke-width="1"/>
<text x="394.5" y="524.2" font-size="7.6" font-weight="normal" text-anchor="middle" fill="#1a1a1a">0</text>
<line x1="425.8" y1="512.5" x2="425.8" y2="515.5" stroke="#1e1e1e" stroke-width="1"/>
<text x="425.8" y="524.2" font-size="7.6" font-weight="normal" text-anchor="middle" fill="#1a1a1a">2</text>
<line x1="457" y1="512.5" x2="457" y2="515.5" stroke="#1e1e1e" stroke-width="1"/>
<text x="457" y="524.2" font-size="7.6" font-weight="normal" text-anchor="middle" fill="#1a1a1a">4</text>
<line x1="487.7" y1="512.5" x2="487.7" y2="515.5" stroke="#1e1e1e" stroke-width="1"/>
<text x="487.7" y="524.2" font-size="7.6" font-weight="normal" text-anchor="middle" fill="#1a1a1a">6</text>
<text transform="translate(376.97,476.35) rotate(-90)" x="0" y="0" font-size="8.8" font-weight="normal" text-anchor="middle" fill="#111" textLength="85.5" lengthAdjust="spacingAndGlyphs" style="stroke-width:0.3px">Cumulative cell number (x10<tspan font-size="4.6" dy="-2.6">6</tspan><tspan dy="2.6">)</tspan></text>
<text x="449" y="533.6" font-size="9.8" font-weight="normal" text-anchor="middle" fill="#111" textLength="24.3" lengthAdjust="spacingAndGlyphs" style="stroke-width:0.35px">Time (d)</text>
<polyline points="394.5,511.6 425.8,506.6 457,503.7 487.7,495.4" fill="none" stroke="#f58c22" stroke-width="1.6" stroke-linejoin="round"/>
<polyline points="394.5,511.5 425.8,506.4 457,503.3 487.7,493.1" fill="none" stroke="#a2359f" stroke-width="1.6" stroke-linejoin="round"/>
<polyline points="394.5,511.5 425.8,506.2 457,501 487.7,482.2" fill="none" stroke="#2faa3c" stroke-width="1.6" stroke-linejoin="round"/>
<polyline points="394.5,511.5 425.8,506.2 457,501.2 487.7,485.5" fill="none" stroke="#0f3f7c" stroke-width="1.6" stroke-linejoin="round"/>
<polyline points="394.5,511 425.8,505.3 457,493.5 487.7,457.3" fill="none" stroke="#c8102e" stroke-width="1.6" stroke-linejoin="round"/>
<line x1="487.7" y1="454.5" x2="487.7" y2="459.2" stroke="#c8102e" stroke-width="1"/>
<line x1="486.3" y1="454.5" x2="489.1" y2="454.5" stroke="#c8102e" stroke-width="1"/>
<line x1="486.3" y1="459.2" x2="489.1" y2="459.2" stroke="#c8102e" stroke-width="1"/>
<line x1="487.7" y1="480.4" x2="487.7" y2="487.3" stroke="#2faa3c" stroke-width="1"/>
<line x1="486.3" y1="480.4" x2="489.1" y2="480.4" stroke="#2faa3c" stroke-width="1"/>
<line x1="486.3" y1="487.3" x2="489.1" y2="487.3" stroke="#2faa3c" stroke-width="1"/>
<line x1="487.7" y1="482.5" x2="487.7" y2="488.5" stroke="#0f3f7c" stroke-width="1"/>
<line x1="486.3" y1="482.5" x2="489.1" y2="482.5" stroke="#0f3f7c" stroke-width="1"/>
<line x1="486.3" y1="488.5" x2="489.1" y2="488.5" stroke="#0f3f7c" stroke-width="1"/>
<polyline points="489.8,480.8 492.8,480.8 492.8,495.4 489.8,495.4" fill="none" stroke="#1e1e1e" stroke-width="1"/>
<text x="494.6" y="491" font-size="7" font-weight="normal" text-anchor="start" fill="#1a1a1a">**</text>
<rect x="88.75" y="540" width="363.75" height="15.5" fill="#fff" stroke="#222" stroke-width="1.1"/>
<line x1="93.25" y1="547.75" x2="99.5" y2="547.75" stroke="#c8102e" stroke-width="1.6"/>
<text x="102" y="550.25" font-size="7" font-weight="normal" text-anchor="start" fill="#1a1a1a" textLength="21.75" lengthAdjust="spacingAndGlyphs">Control</text>
<line x1="136.25" y1="547.75" x2="143" y2="547.75" stroke="#0f3f7c" stroke-width="1.6"/>
<text x="145" y="550.25" font-size="7" font-weight="normal" text-anchor="start" fill="#1a1a1a" textLength="43.75" lengthAdjust="spacingAndGlyphs">Omomyc 2 μM</text>
<line x1="200.5" y1="547.75" x2="207" y2="547.75" stroke="#2faa3c" stroke-width="1.6"/>
<text x="209.5" y="550.25" font-size="7" font-weight="normal" text-anchor="start" fill="#1a1a1a" textLength="44.25" lengthAdjust="spacingAndGlyphs">Omomyc 5 μM</text>
<line x1="265.5" y1="547.75" x2="272.5" y2="547.75" stroke="#a2359f" stroke-width="1.6"/>
<text x="274.5" y="550.25" font-size="7" font-weight="normal" text-anchor="start" fill="#1a1a1a" textLength="77.5" lengthAdjust="spacingAndGlyphs">Omomyc 2 μM + BI-3802</text>
<line x1="362" y1="547.75" x2="369.5" y2="547.75" stroke="#f58c22" stroke-width="1.6"/>
<text x="371.25" y="550.25" font-size="7" font-weight="normal" text-anchor="start" fill="#1a1a1a" textLength="76.25" lengthAdjust="spacingAndGlyphs">Omomyc 5 μM + BI-3802</text>
<text x="67.2" y="572" font-size="9.2" font-weight="bold" text-anchor="start" fill="#000" textLength="18.9" lengthAdjust="spacingAndGlyphs" style="stroke-width:0.4px">RAJI</text>
<text x="86.9" y="569.1" font-size="5" font-weight="bold" fill="#000" style="stroke-width:0.3px" textLength="22.3" lengthAdjust="spacing">WT-OMO</text>
<line x1="42.5" y1="577.4" x2="42.5" y2="653.2" stroke="#1e1e1e" stroke-width="1.3"/>
<line x1="39.5" y1="577.4" x2="42.5" y2="577.4" stroke="#1e1e1e" stroke-width="1.1"/>
<text x="37.6" y="580.1" font-size="7.6" font-weight="normal" text-anchor="end" fill="#1a1a1a">70</text>
<line x1="39.5" y1="588.3" x2="42.5" y2="588.3" stroke="#1e1e1e" stroke-width="1.1"/>
<text x="37.6" y="591" font-size="7.6" font-weight="normal" text-anchor="end" fill="#1a1a1a">60</text>
<line x1="39.5" y1="598.9" x2="42.5" y2="598.9" stroke="#1e1e1e" stroke-width="1.1"/>
<text x="37.6" y="601.6" font-size="7.6" font-weight="normal" text-anchor="end" fill="#1a1a1a">50</text>
<line x1="39.5" y1="609.6" x2="42.5" y2="609.6" stroke="#1e1e1e" stroke-width="1.1"/>
<text x="37.6" y="612.3" font-size="7.6" font-weight="normal" text-anchor="end" fill="#1a1a1a">40</text>
<line x1="39.5" y1="620.3" x2="42.5" y2="620.3" stroke="#1e1e1e" stroke-width="1.1"/>
<text x="37.6" y="623" font-size="7.6" font-weight="normal" text-anchor="end" fill="#1a1a1a">30</text>
<line x1="39.5" y1="631.1" x2="42.5" y2="631.1" stroke="#1e1e1e" stroke-width="1.1"/>
<text x="37.6" y="633.8" font-size="7.6" font-weight="normal" text-anchor="end" fill="#1a1a1a">20</text>
<line x1="39.5" y1="641.7" x2="42.5" y2="641.7" stroke="#1e1e1e" stroke-width="1.1"/>
<text x="37.6" y="644.4" font-size="7.6" font-weight="normal" text-anchor="end" fill="#1a1a1a">10</text>
<line x1="39.5" y1="652.6" x2="42.5" y2="652.6" stroke="#1e1e1e" stroke-width="1.1"/>
<text x="37.6" y="655.3" font-size="7.6" font-weight="normal" text-anchor="end" fill="#1a1a1a">0</text>
<line x1="42.4" y1="652.5" x2="62.4" y2="652.5" stroke="#1e1e1e" stroke-width="1.3"/>
<line x1="69.5" y1="652.5" x2="152.6" y2="652.5" stroke="#1e1e1e" stroke-width="1.3"/>
<line x1="63.6" y1="652.5" x2="68.7" y2="652.5" stroke="#1e1e1e" stroke-width="1.3" stroke-dasharray="1.1,1.1"/>
<line x1="62.4" y1="650.5" x2="62.4" y2="655.5" stroke="#1e1e1e" stroke-width="1"/>
<line x1="69.5" y1="650.5" x2="69.5" y2="654.5" stroke="#1e1e1e" stroke-width="1"/>
<line x1="42.4" y1="652.5" x2="42.4" y2="655.5" stroke="#1e1e1e" stroke-width="1"/>
<text x="42.4" y="664.6" font-size="7.6" font-weight="normal" text-anchor="middle" fill="#1a1a1a">0</text>
<line x1="49.4" y1="652.5" x2="49.4" y2="655.5" stroke="#1e1e1e" stroke-width="1"/>
<text x="49.4" y="664.6" font-size="7.6" font-weight="normal" text-anchor="middle" fill="#1a1a1a">3</text>
<line x1="55.7" y1="652.5" x2="55.7" y2="655.5" stroke="#1e1e1e" stroke-width="1"/>
<text x="55.7" y="664.6" font-size="7.6" font-weight="normal" text-anchor="middle" fill="#1a1a1a">6</text>
<line x1="62.4" y1="652.5" x2="62.4" y2="655.5" stroke="#1e1e1e" stroke-width="1"/>
<text x="62.4" y="664.6" font-size="7.6" font-weight="normal" text-anchor="middle" fill="#1a1a1a">9</text>
<line x1="88.9" y1="652.5" x2="88.9" y2="655.5" stroke="#1e1e1e" stroke-width="1"/>
<text x="88.9" y="664.6" font-size="7.6" font-weight="normal" text-anchor="middle" fill="#1a1a1a">12</text>
<line x1="113.9" y1="652.5" x2="113.9" y2="655.5" stroke="#1e1e1e" stroke-width="1"/>
<text x="113.9" y="664.6" font-size="7.6" font-weight="normal" text-anchor="middle" fill="#1a1a1a">15</text>
<line x1="139.2" y1="652.5" x2="139.2" y2="655.5" stroke="#1e1e1e" stroke-width="1"/>
<text x="139.2" y="664.6" font-size="7.6" font-weight="normal" text-anchor="middle" fill="#1a1a1a">20</text>
<text transform="translate(19.67,615) rotate(-90)" x="0" y="0" font-size="8.8" font-weight="normal" text-anchor="middle" fill="#111" textLength="87" lengthAdjust="spacingAndGlyphs" style="stroke-width:0.3px">Cumulative cell number (×10<tspan font-size="4.6" dy="-2.6">6</tspan><tspan dy="2.6">)</tspan></text>
<text x="97.7" y="674.5" font-size="9.8" font-weight="normal" text-anchor="middle" fill="#111" textLength="24.3" lengthAdjust="spacingAndGlyphs" style="stroke-width:0.35px">Time (d)</text>
<polyline points="42.4,652.6 49.4,652.6 55.7,652.6 62.4,652.6" fill="none" stroke="#c8102e" stroke-width="1.6" stroke-linejoin="round"/>
<polyline points="69.5,652.6 88.9,652.5 113.9,652.2 139.2,650.9" fill="none" stroke="#4e1d7a" stroke-width="1.6" stroke-linejoin="round"/>
<polyline points="69.5,652.5 88.9,652.3 113.9,651.5 139.2,646.2" fill="none" stroke="#2faa3c" stroke-width="1.6" stroke-linejoin="round"/>
<polyline points="69.5,652.5 88.9,652.3 113.9,650.9 139.2,641.9" fill="none" stroke="#0f3f7c" stroke-width="1.6" stroke-linejoin="round"/>
<polyline points="69.5,652 88.9,650.9 113.9,641.2 139.2,589.2" fill="none" stroke="#c8102e" stroke-width="1.6" stroke-linejoin="round"/>
<line x1="139.2" y1="585.3" x2="139.2" y2="591.5" stroke="#c8102e" stroke-width="1"/>
<line x1="137.8" y1="585.3" x2="140.6" y2="585.3" stroke="#c8102e" stroke-width="1"/>
<line x1="137.8" y1="591.5" x2="140.6" y2="591.5" stroke="#c8102e" stroke-width="1"/>
<polyline points="142.3,639.6 145.6,639.6 145.6,650.4 142.3,650.4" fill="none" stroke="#1e1e1e" stroke-width="1"/>
<polyline points="145.6,643.8 148.5,643.8 148.5,650.4 145.6,650.4" fill="none" stroke="#1e1e1e" stroke-width="1"/>
<text x="147.3" y="642.1" font-size="6.5" font-weight="normal" text-anchor="start" fill="#1a1a1a">***</text>
<text x="151.9" y="649.8" font-size="6.5" font-weight="normal" text-anchor="start" fill="#1a1a1a">**</text>
<text x="236.1" y="571.6" font-size="9.2" font-weight="bold" text-anchor="start" fill="#000" textLength="18.9" lengthAdjust="spacingAndGlyphs" style="stroke-width:0.4px">RAJI</text>
<text x="255.8" y="568.7" font-size="5" font-weight="bold" fill="#000" style="stroke-width:0.3px" textLength="52.3" lengthAdjust="spacing">FBXO11 KO#1-OMO</text>
<line x1="217.5" y1="577.5" x2="217.5" y2="653" stroke="#1e1e1e" stroke-width="1.3"/>
<line x1="214.5" y1="577.5" x2="217.5" y2="577.5" stroke="#1e1e1e" stroke-width="1.1"/>
<text x="212.9" y="580.2" font-size="7.6" font-weight="normal" text-anchor="end" fill="#1a1a1a">50</text>
<line x1="214.5" y1="592.8" x2="217.5" y2="592.8" stroke="#1e1e1e" stroke-width="1.1"/>
<text x="212.9" y="595.5" font-size="7.6" font-weight="normal" text-anchor="end" fill="#1a1a1a">40</text>
<line x1="214.5" y1="607.4" x2="217.5" y2="607.4" stroke="#1e1e1e" stroke-width="1.1"/>
<text x="212.9" y="610.1" font-size="7.6" font-weight="normal" text-anchor="end" fill="#1a1a1a">30</text>
<line x1="214.5" y1="622.6" x2="217.5" y2="622.6" stroke="#1e1e1e" stroke-width="1.1"/>
<text x="212.9" y="625.3" font-size="7.6" font-weight="normal" text-anchor="end" fill="#1a1a1a">20</text>
<line x1="214.5" y1="637.5" x2="217.5" y2="637.5" stroke="#1e1e1e" stroke-width="1.1"/>
<text x="212.9" y="640.2" font-size="7.6" font-weight="normal" text-anchor="end" fill="#1a1a1a">10</text>
<line x1="214.5" y1="652.4" x2="217.5" y2="652.4" stroke="#1e1e1e" stroke-width="1.1"/>
<text x="212.9" y="655.1" font-size="7.6" font-weight="normal" text-anchor="end" fill="#1a1a1a">0</text>
<line x1="217.3" y1="652.5" x2="238.2" y2="652.5" stroke="#1e1e1e" stroke-width="1.3"/>
<line x1="244.6" y1="652.5" x2="326.8" y2="652.5" stroke="#1e1e1e" stroke-width="1.3"/>
<line x1="239.4" y1="652.5" x2="243.8" y2="652.5" stroke="#1e1e1e" stroke-width="1.3" stroke-dasharray="1.1,1.1"/>
<line x1="238.2" y1="650.5" x2="238.2" y2="655.5" stroke="#1e1e1e" stroke-width="1"/>
<line x1="244.6" y1="650.5" x2="244.6" y2="654.5" stroke="#1e1e1e" stroke-width="1"/>
<line x1="217.3" y1="652.5" x2="217.3" y2="655.5" stroke="#1e1e1e" stroke-width="1"/>
<text x="217.3" y="664.6" font-size="7.6" font-weight="normal" text-anchor="middle" fill="#1a1a1a">0</text>
<line x1="224.7" y1="652.5" x2="224.7" y2="655.5" stroke="#1e1e1e" stroke-width="1"/>
<text x="224.7" y="664.6" font-size="7.6" font-weight="normal" text-anchor="middle" fill="#1a1a1a">3</text>
<line x1="231.5" y1="652.5" x2="231.5" y2="655.5" stroke="#1e1e1e" stroke-width="1"/>
<text x="231.5" y="664.6" font-size="7.6" font-weight="normal" text-anchor="middle" fill="#1a1a1a">6</text>
<line x1="238.2" y1="652.5" x2="238.2" y2="655.5" stroke="#1e1e1e" stroke-width="1"/>
<text x="238.2" y="664.6" font-size="7.6" font-weight="normal" text-anchor="middle" fill="#1a1a1a">9</text>
<line x1="267.7" y1="652.5" x2="267.7" y2="655.5" stroke="#1e1e1e" stroke-width="1"/>
<text x="267.7" y="664.6" font-size="7.6" font-weight="normal" text-anchor="middle" fill="#1a1a1a">12</text>
<line x1="291.9" y1="652.5" x2="291.9" y2="655.5" stroke="#1e1e1e" stroke-width="1"/>
<text x="291.9" y="664.6" font-size="7.6" font-weight="normal" text-anchor="middle" fill="#1a1a1a">15</text>
<line x1="315" y1="652.5" x2="315" y2="655.5" stroke="#1e1e1e" stroke-width="1"/>
<text x="315" y="664.6" font-size="7.6" font-weight="normal" text-anchor="middle" fill="#1a1a1a">20</text>
<text transform="translate(198.57,615.55) rotate(-90)" x="0" y="0" font-size="8.8" font-weight="normal" text-anchor="middle" fill="#111" textLength="85.5" lengthAdjust="spacingAndGlyphs" style="stroke-width:0.3px">Cumulative cell number (x10<tspan font-size="4.6" dy="-2.6">6</tspan><tspan dy="2.6">)</tspan></text>
<text x="268.3" y="674.8" font-size="9.8" font-weight="normal" text-anchor="middle" fill="#111" textLength="24.3" lengthAdjust="spacingAndGlyphs" style="stroke-width:0.35px">Time (d)</text>
<polyline points="217.3,652.4 224.7,652.2 231.5,651.8 238.2,651.2" fill="none" stroke="#c8102e" stroke-width="1.6" stroke-linejoin="round"/>
<polyline points="244.6,652.4 267.7,652.3 291.9,651.5 315,648.9" fill="none" stroke="#4e1d7a" stroke-width="1.6" stroke-linejoin="round"/>
<polyline points="244.6,652.3 267.7,652 291.9,651 315,641.2" fill="none" stroke="#2faa3c" stroke-width="1.6" stroke-linejoin="round"/>
<polyline points="244.6,652.3 267.7,652 291.9,650.5 315,639.6" fill="none" stroke="#0f3f7c" stroke-width="1.6" stroke-linejoin="round"/>
<polyline points="244.6,651.9 267.7,650.5 291.9,643.1 315,588.2" fill="none" stroke="#c8102e" stroke-width="1.6" stroke-linejoin="round"/>
<line x1="315" y1="583" x2="315" y2="592.3" stroke="#c8102e" stroke-width="1"/>
<line x1="313.6" y1="583" x2="316.4" y2="583" stroke="#c8102e" stroke-width="1"/>
<line x1="313.6" y1="592.3" x2="316.4" y2="592.3" stroke="#c8102e" stroke-width="1"/>
<line x1="315" y1="637.5" x2="315" y2="642" stroke="#0f3f7c" stroke-width="1"/>
<line x1="313.6" y1="637.5" x2="316.4" y2="637.5" stroke="#0f3f7c" stroke-width="1"/>
<line x1="313.6" y1="642" x2="316.4" y2="642" stroke="#0f3f7c" stroke-width="1"/>
<polyline points="316.9,637.4 319.5,637.4 319.5,650.3 316.9,650.3" fill="none" stroke="#1e1e1e" stroke-width="1"/>
<polyline points="319.5,639.1 322.9,639.1 322.9,650.3 319.5,650.3" fill="none" stroke="#1e1e1e" stroke-width="1"/>
<text x="323.8" y="640.3" font-size="6.5" font-weight="normal" text-anchor="start" fill="#1a1a1a">**</text>
<text x="325" y="649.2" font-size="6.5" font-weight="normal" text-anchor="start" fill="#1a1a1a">***</text>
<text x="412" y="571.6" font-size="9.2" font-weight="bold" text-anchor="start" fill="#000" textLength="18.9" lengthAdjust="spacingAndGlyphs" style="stroke-width:0.4px">RAJI</text>
<text x="431.7" y="568.7" font-size="5" font-weight="bold" fill="#000" style="stroke-width:0.3px" textLength="52.3" lengthAdjust="spacing">FBXO11 KO#2-OMO</text>
<line x1="394.5" y1="576.3" x2="394.5" y2="653.1" stroke="#1e1e1e" stroke-width="1.3"/>
<line x1="391.5" y1="576.3" x2="394.5" y2="576.3" stroke="#1e1e1e" stroke-width="1.1"/>
<text x="389.8" y="579" font-size="7.6" font-weight="normal" text-anchor="end" fill="#1a1a1a">20</text>
<line x1="391.5" y1="595.3" x2="394.5" y2="595.3" stroke="#1e1e1e" stroke-width="1.1"/>
<text x="389.8" y="598" font-size="7.6" font-weight="normal" text-anchor="end" fill="#1a1a1a">15</text>
<line x1="391.5" y1="614.4" x2="394.5" y2="614.4" stroke="#1e1e1e" stroke-width="1.1"/>
<text x="389.8" y="617.1" font-size="7.6" font-weight="normal" text-anchor="end" fill="#1a1a1a">10</text>
<line x1="391.5" y1="633.5" x2="394.5" y2="633.5" stroke="#1e1e1e" stroke-width="1.1"/>
<text x="389.8" y="636.2" font-size="7.6" font-weight="normal" text-anchor="end" fill="#1a1a1a">5</text>
<line x1="391.5" y1="652.5" x2="394.5" y2="652.5" stroke="#1e1e1e" stroke-width="1.1"/>
<text x="389.8" y="655.2" font-size="7.6" font-weight="normal" text-anchor="end" fill="#1a1a1a">0</text>
<line x1="394.7" y1="652.5" x2="414.3" y2="652.5" stroke="#1e1e1e" stroke-width="1.3"/>
<line x1="424.2" y1="652.5" x2="503.4" y2="652.5" stroke="#1e1e1e" stroke-width="1.3"/>
<line x1="415.5" y1="652.5" x2="423.4" y2="652.5" stroke="#1e1e1e" stroke-width="1.3" stroke-dasharray="1.1,1.1"/>
<line x1="414.3" y1="650.5" x2="414.3" y2="655.5" stroke="#1e1e1e" stroke-width="1"/>
<line x1="424.2" y1="650.5" x2="424.2" y2="654.5" stroke="#1e1e1e" stroke-width="1"/>
<line x1="394.7" y1="652.5" x2="394.7" y2="655.5" stroke="#1e1e1e" stroke-width="1"/>
<text x="394.7" y="664.6" font-size="7.6" font-weight="normal" text-anchor="middle" fill="#1a1a1a">0</text>
<line x1="401.3" y1="652.5" x2="401.3" y2="655.5" stroke="#1e1e1e" stroke-width="1"/>
<text x="401.3" y="664.6" font-size="7.6" font-weight="normal" text-anchor="middle" fill="#1a1a1a">3</text>
<line x1="408" y1="652.5" x2="408" y2="655.5" stroke="#1e1e1e" stroke-width="1"/>
<text x="408" y="664.6" font-size="7.6" font-weight="normal" text-anchor="middle" fill="#1a1a1a">6</text>
<line x1="414.3" y1="652.5" x2="414.3" y2="655.5" stroke="#1e1e1e" stroke-width="1"/>
<text x="414.3" y="664.6" font-size="7.6" font-weight="normal" text-anchor="middle" fill="#1a1a1a">9</text>
<line x1="446.8" y1="652.5" x2="446.8" y2="655.5" stroke="#1e1e1e" stroke-width="1"/>
<text x="446.8" y="664.6" font-size="7.6" font-weight="normal" text-anchor="middle" fill="#1a1a1a">12</text>
<line x1="469.2" y1="652.5" x2="469.2" y2="655.5" stroke="#1e1e1e" stroke-width="1"/>
<text x="469.2" y="664.6" font-size="7.6" font-weight="normal" text-anchor="middle" fill="#1a1a1a">15</text>
<line x1="492.3" y1="652.5" x2="492.3" y2="655.5" stroke="#1e1e1e" stroke-width="1"/>
<text x="492.3" y="664.6" font-size="7.6" font-weight="normal" text-anchor="middle" fill="#1a1a1a">20</text>
<text transform="translate(375.47,614.75) rotate(-90)" x="0" y="0" font-size="8.8" font-weight="normal" text-anchor="middle" fill="#111" textLength="85.5" lengthAdjust="spacingAndGlyphs" style="stroke-width:0.3px">Cumulative cell number (x10<tspan font-size="4.6" dy="-2.6">6</tspan><tspan dy="2.6">)</tspan></text>
<text x="438.4" y="674.1" font-size="9.8" font-weight="normal" text-anchor="middle" fill="#111" textLength="24.3" lengthAdjust="spacingAndGlyphs" style="stroke-width:0.35px">Time (d)</text>
<polyline points="394.7,652.4 401.3,652.3 408,652 414.3,651.5" fill="none" stroke="#0f3f7c" stroke-width="1.6" stroke-linejoin="round"/>
<polyline points="394.7,652.2 401.3,651.8 408,651.3 414.3,650.3" fill="none" stroke="#c8102e" stroke-width="1.6" stroke-linejoin="round"/>
<polyline points="424.2,651.7 446.8,651.2 469.2,650 492.3,648.4" fill="none" stroke="#4e1d7a" stroke-width="1.6" stroke-linejoin="round"/>
<polyline points="424.2,650 446.8,647.2 469.2,643.5 492.3,638" fill="none" stroke="#2faa3c" stroke-width="1.6" stroke-linejoin="round"/>
<polyline points="424.2,650.5 446.8,647.7 469.2,638.9 492.3,618.8" fill="none" stroke="#0f3f7c" stroke-width="1.6" stroke-linejoin="round"/>
<polyline points="424.2,648.9 446.8,644.9 469.2,627.4 492.3,579.6" fill="none" stroke="#c8102e" stroke-width="1.6" stroke-linejoin="round"/>
<line x1="492.3" y1="576.6" x2="492.3" y2="581.9" stroke="#c8102e" stroke-width="1"/>
<line x1="490.9" y1="576.6" x2="493.7" y2="576.6" stroke="#c8102e" stroke-width="1"/>
<line x1="490.9" y1="581.9" x2="493.7" y2="581.9" stroke="#c8102e" stroke-width="1"/>
<line x1="492.3" y1="614.2" x2="492.3" y2="622.8" stroke="#0f3f7c" stroke-width="1"/>
<line x1="490.9" y1="614.2" x2="493.7" y2="614.2" stroke="#0f3f7c" stroke-width="1"/>
<line x1="490.9" y1="622.8" x2="493.7" y2="622.8" stroke="#0f3f7c" stroke-width="1"/>
<line x1="492.3" y1="636.5" x2="492.3" y2="640" stroke="#2faa3c" stroke-width="1"/>
<line x1="490.9" y1="636.5" x2="493.7" y2="636.5" stroke="#2faa3c" stroke-width="1"/>
<line x1="490.9" y1="640" x2="493.7" y2="640" stroke="#2faa3c" stroke-width="1"/>
<polyline points="497.1,616.4 500.5,616.4 500.5,649.5 497.1,649.5" fill="none" stroke="#1e1e1e" stroke-width="1"/>
<polyline points="500.5,636.8 504.2,636.8 504.2,649.9 500.5,649.9" fill="none" stroke="#1e1e1e" stroke-width="1"/>
<text x="502.7" y="629.2" font-size="6.5" font-weight="normal" text-anchor="start" fill="#1a1a1a">**</text>
<text x="506.3" y="646.6" font-size="6.5" font-weight="normal" text-anchor="start" fill="#1a1a1a">**</text>
<rect x="162.3" y="679.2" width="217.5" height="14.6" fill="#fff" stroke="#222" stroke-width="1.1"/>
<line x1="169.2" y1="686.5" x2="176.9" y2="686.5" stroke="#c8102e" stroke-width="1.6"/>
<text x="179.6" y="689" font-size="7" font-weight="normal" text-anchor="start" fill="#1a1a1a" textLength="21.7" lengthAdjust="spacingAndGlyphs">Control</text>
<line x1="212.3" y1="686.5" x2="220" y2="686.5" stroke="#0f3f7c" stroke-width="1.6"/>
<text x="222.5" y="689" font-size="7" font-weight="normal" text-anchor="start" fill="#1a1a1a" textLength="26.9" lengthAdjust="spacingAndGlyphs">Omomyc</text>
<line x1="260.8" y1="686.5" x2="268" y2="686.5" stroke="#2faa3c" stroke-width="1.6"/>
<text x="270.8" y="689" font-size="7" font-weight="normal" text-anchor="start" fill="#1a1a1a" textLength="24.2" lengthAdjust="spacingAndGlyphs">BI-3802</text>
<line x1="304.6" y1="686.5" x2="312.3" y2="686.5" stroke="#4e1d7a" stroke-width="1.6"/>
<text x="315" y="689" font-size="7" font-weight="normal" text-anchor="start" fill="#1a1a1a" textLength="60" lengthAdjust="spacingAndGlyphs">Omomyc + BI-3802</text>
</g></svg></body></html>
